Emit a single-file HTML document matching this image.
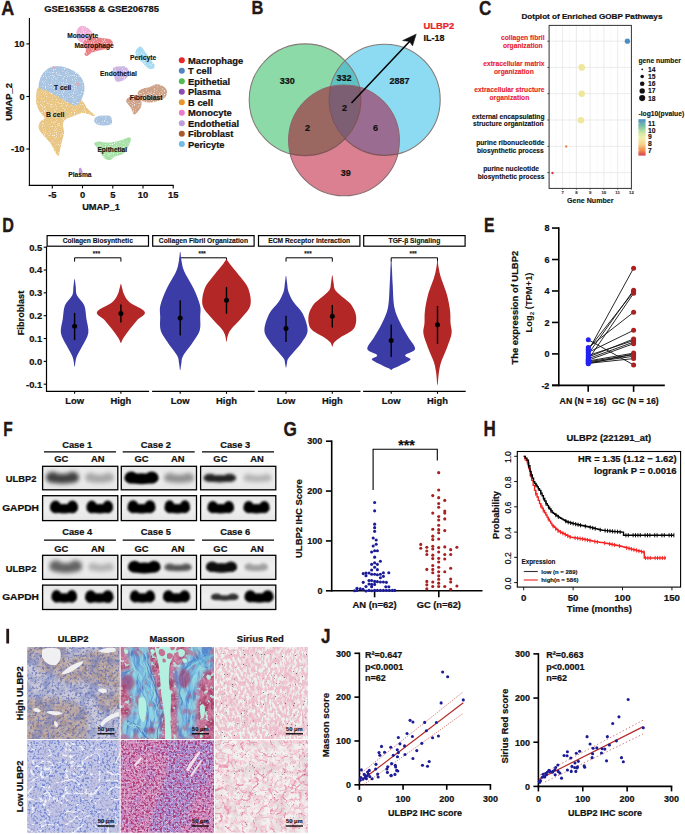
<!DOCTYPE html>
<html><head><meta charset="utf-8"><title>Figure</title>
<style>
html,body{margin:0;padding:0;background:#fff;}
body{width:685px;height:834px;overflow:hidden;}
svg{display:block;font-family:"Liberation Sans", sans-serif;font-weight:bold;}
</style></head><body>
<svg width="685" height="834" viewBox="0 0 685 834" fill="#111">
<defs><filter id="speck" x="-10%" y="-10%" width="120%" height="120%"><feTurbulence type="fractalNoise" baseFrequency="0.9" numOctaves="1" seed="3" result="n"/><feColorMatrix in="n" type="matrix" values="0 0 0 0 1  0 0 0 0 1  0 0 0 0 1  0 0 0 -3.5 1.55" result="w"/><feComposite in="w" in2="SourceGraphic" operator="in" result="wm"/><feMerge><feMergeNode in="SourceGraphic"/><feMergeNode in="wm"/></feMerge></filter><clipPath id="cG"><circle cx="305.1" cy="99.8" r="55.9"/></clipPath><clipPath id="cB"><circle cx="384.6" cy="99.8" r="55.6"/></clipPath><clipPath id="cR"><circle cx="344.0" cy="140.4" r="55.4"/></clipPath><linearGradient id="spec" x1="0" y1="0" x2="0" y2="1"><stop offset="0" stop-color="#4d8ec6"/><stop offset="0.2" stop-color="#7ec4a4"/><stop offset="0.38" stop-color="#cfe9a0"/><stop offset="0.52" stop-color="#f3f0ac"/><stop offset="0.7" stop-color="#f7cf86"/><stop offset="0.85" stop-color="#f0904e"/><stop offset="1" stop-color="#d7424e"/></linearGradient><filter id="bl4" x="-30%" y="-60%" width="160%" height="220%"><feGaussianBlur stdDeviation="0.4"/></filter><filter id="bl5" x="-30%" y="-60%" width="160%" height="220%"><feGaussianBlur stdDeviation="0.5"/></filter><filter id="bl6" x="-30%" y="-60%" width="160%" height="220%"><feGaussianBlur stdDeviation="0.6"/></filter><filter id="bl7" x="-30%" y="-60%" width="160%" height="220%"><feGaussianBlur stdDeviation="0.7"/></filter><filter id="bl8" x="-30%" y="-60%" width="160%" height="220%"><feGaussianBlur stdDeviation="0.8"/></filter><filter id="bl9" x="-30%" y="-60%" width="160%" height="220%"><feGaussianBlur stdDeviation="0.9"/></filter><filter id="bl10" x="-30%" y="-60%" width="160%" height="220%"><feGaussianBlur stdDeviation="1.0"/></filter><filter id="bl11" x="-30%" y="-60%" width="160%" height="220%"><feGaussianBlur stdDeviation="1.1"/></filter><filter id="bl12" x="-30%" y="-60%" width="160%" height="220%"><feGaussianBlur stdDeviation="1.2"/></filter><filter id="bl13" x="-30%" y="-60%" width="160%" height="220%"><feGaussianBlur stdDeviation="1.3"/></filter><filter id="bl14" x="-30%" y="-60%" width="160%" height="220%"><feGaussianBlur stdDeviation="1.4"/></filter><filter id="bl15" x="-30%" y="-60%" width="160%" height="220%"><feGaussianBlur stdDeviation="1.5"/></filter><filter id="bl16" x="-30%" y="-60%" width="160%" height="220%"><feGaussianBlur stdDeviation="1.6"/></filter><filter id="bl17" x="-30%" y="-60%" width="160%" height="220%"><feGaussianBlur stdDeviation="1.7"/></filter><filter id="bl18" x="-30%" y="-60%" width="160%" height="220%"><feGaussianBlur stdDeviation="1.8"/></filter><filter id="bl19" x="-30%" y="-60%" width="160%" height="220%"><feGaussianBlur stdDeviation="1.9"/></filter><filter id="bl20" x="-30%" y="-60%" width="160%" height="220%"><feGaussianBlur stdDeviation="2.0"/></filter><filter id="bl21" x="-30%" y="-60%" width="160%" height="220%"><feGaussianBlur stdDeviation="2.1"/></filter><filter id="bl22" x="-30%" y="-60%" width="160%" height="220%"><feGaussianBlur stdDeviation="2.2"/></filter><filter id="bl23" x="-30%" y="-60%" width="160%" height="220%"><feGaussianBlur stdDeviation="2.3"/></filter><filter id="bl24" x="-30%" y="-60%" width="160%" height="220%"><feGaussianBlur stdDeviation="2.4"/></filter><filter id="bl25" x="-30%" y="-60%" width="160%" height="220%"><feGaussianBlur stdDeviation="2.5"/></filter><filter id="bl26" x="-30%" y="-60%" width="160%" height="220%"><feGaussianBlur stdDeviation="2.6"/></filter><filter id="bl27" x="-30%" y="-60%" width="160%" height="220%"><feGaussianBlur stdDeviation="2.7"/></filter><filter id="bl28" x="-30%" y="-60%" width="160%" height="220%"><feGaussianBlur stdDeviation="2.8"/></filter><filter id="bl29" x="-30%" y="-60%" width="160%" height="220%"><feGaussianBlur stdDeviation="2.9"/></filter><filter id="bl30" x="-30%" y="-60%" width="160%" height="220%"><feGaussianBlur stdDeviation="3.0"/></filter><linearGradient id="blotbg" x1="0" y1="0" x2="0" y2="1"><stop offset="0" stop-color="#e8e8e8"/><stop offset="0.5" stop-color="#efefef"/><stop offset="1" stop-color="#e6e6e6"/></linearGradient><clipPath id="cp1_466"><rect x="42.6" y="466.3" width="75.2" height="23.5"/></clipPath><clipPath id="cp1_495"><rect x="42.6" y="495.7" width="75.2" height="24.900000000000034"/></clipPath><clipPath id="cp2_466"><rect x="121.3" y="466.3" width="75.2" height="23.5"/></clipPath><clipPath id="cp2_495"><rect x="121.3" y="495.7" width="75.2" height="24.900000000000034"/></clipPath><clipPath id="cp3_466"><rect x="200.6" y="466.3" width="75.2" height="23.5"/></clipPath><clipPath id="cp3_495"><rect x="200.6" y="495.7" width="75.2" height="24.900000000000034"/></clipPath><clipPath id="cp4_555"><rect x="42.6" y="555.3" width="75.2" height="24.100000000000023"/></clipPath><clipPath id="cp4_585"><rect x="42.6" y="585.1" width="75.2" height="24.399999999999977"/></clipPath><clipPath id="cp5_555"><rect x="121.3" y="555.3" width="75.2" height="24.100000000000023"/></clipPath><clipPath id="cp5_585"><rect x="121.3" y="585.1" width="75.2" height="24.399999999999977"/></clipPath><clipPath id="cp6_555"><rect x="200.6" y="555.3" width="75.2" height="24.100000000000023"/></clipPath><clipPath id="cp6_585"><rect x="200.6" y="585.1" width="75.2" height="24.399999999999977"/></clipPath><filter id="sb6" x="-20%" y="-20%" width="140%" height="140%"><feGaussianBlur stdDeviation="0.6"/></filter><filter id="sb10" x="-20%" y="-20%" width="140%" height="140%"><feGaussianBlur stdDeviation="1.0"/></filter><filter id="sb20" x="-20%" y="-20%" width="140%" height="140%"><feGaussianBlur stdDeviation="2.0"/></filter><filter id="tblur" x="0" y="0" width="100%" height="100%"><feGaussianBlur stdDeviation="0.65"/></filter><clipPath id="ci_u_hi"><rect x="27.2" y="647.1" width="92.5" height="91.9"/></clipPath><filter id="nz1" x="0" y="0" width="100%" height="100%" color-interpolation-filters="sRGB"><feTurbulence type="fractalNoise" baseFrequency="0.12" numOctaves="2" seed="12"/><feColorMatrix type="matrix" values="0 0 0 0 0.588  0 0 0 0 0.620  0 0 0 0 0.784  6 0 0 0 -2.7"/></filter><mask id="uzone" maskUnits="userSpaceOnUse" x="20" y="640" width="105" height="105"><g fill="#fff" filter="url(#sb20)"><path d="M55,668 L70,658 L90,652 L119,645 L121,690 L100,686 L85,681 L70,683 L58,679Z"/><path d="M25,700 L50,697 L75,702 L88,712 L86,741 L25,741Z"/><path d="M95,695 L121,690 L121,708 L100,712Z"/><path d="M36,645 L66,645 L66,671 L40,673Z"/><path d="M25,645 L34,645 L34,660 L25,662Z"/></g></mask><filter id="nz2" x="0" y="0" width="100%" height="100%" color-interpolation-filters="sRGB"><feTurbulence type="fractalNoise" baseFrequency="0.15" numOctaves="3" seed="7"/><feColorMatrix type="matrix" values="0 0 0 0 0.627  0 0 0 0 0.502  0 0 0 0 0.451  6 0 0 0 -2.8"/></filter><filter id="nz3" x="0" y="0" width="100%" height="100%" color-interpolation-filters="sRGB"><feTurbulence type="fractalNoise" baseFrequency="0.3" numOctaves="2" seed="27"/><feColorMatrix type="matrix" values="0 0 0 0 0.824  0 0 0 0 0.745  0 0 0 0 0.725  6 0 0 0 -2.9"/></filter><filter id="nz4" x="0" y="0" width="100%" height="100%" color-interpolation-filters="sRGB"><feTurbulence type="fractalNoise" baseFrequency="0.4" numOctaves="2" seed="2"/><feColorMatrix type="matrix" values="0 0 0 0 0.306  0 0 0 0 0.384  0 0 0 0 0.706  6 0 0 0 -3.1"/></filter><filter id="nz5" x="0" y="0" width="100%" height="100%" color-interpolation-filters="sRGB"><feTurbulence type="fractalNoise" baseFrequency="0.09" numOctaves="2" seed="33"/><feColorMatrix type="matrix" values="0 0 0 0 0.412  0 0 0 0 0.471  0 0 0 0 0.745  7 0 0 0 -3.6"/></filter><clipPath id="ci_m_hi"><rect x="120.7" y="647.1" width="93.3" height="91.9"/></clipPath><filter id="nz6" x="0" y="0" width="100%" height="100%" color-interpolation-filters="sRGB"><feTurbulence type="fractalNoise" baseFrequency="0.1" numOctaves="3" seed="4"/><feColorMatrix type="matrix" values="0 0 0 0 0.620  0 0 0 0 0.188  0 0 0 0 0.361  6 0 0 0 -2.6"/></filter><filter id="nz7" x="0" y="0" width="100%" height="100%" color-interpolation-filters="sRGB"><feTurbulence type="fractalNoise" baseFrequency="0.35" numOctaves="2" seed="14"/><feColorMatrix type="matrix" values="0 0 0 0 0.871  0 0 0 0 0.620  0 0 0 0 0.706  6 0 0 0 -2.9"/></filter><filter id="nz8" x="0" y="0" width="100%" height="100%" color-interpolation-filters="sRGB"><feTurbulence type="fractalNoise" baseFrequency="0.22" numOctaves="2" seed="51"/><feColorMatrix type="matrix" values="0 0 0 0 0.725  0 0 0 0 0.941  0 0 0 0 0.886  9 0 0 0 -5.3"/></filter><mask id="mzone" maskUnits="userSpaceOnUse" x="115" y="640" width="105" height="105"><g fill="#fff" filter="url(#sb20)"><path d="M127,646 L148,646 L150,660 L152,675 L158,692 L161,715 L161,739 L121,739 L121,722 L130,715 L132,700 L128,690 L121,682 L121,672 L130,668 L128,655Z"/><path d="M190,646 L214,646 L214,668 L205,672 L198,685 L197,700 L196,720 L196,739 L178,739 L177,720 L178,700 L176,685 L174,672 L180,665 L186,658Z"/></g></mask><filter id="nz9" x="0" y="0" width="100%" height="100%" color-interpolation-filters="sRGB"><feTurbulence type="fractalNoise" baseFrequency="0.14 0.05" numOctaves="3" seed="19"/><feColorMatrix type="matrix" values="0 0 0 0 0.235  0 0 0 0 0.424  0 0 0 0 0.776  6 0 0 0 -2.8"/></filter><filter id="nz10" x="0" y="0" width="100%" height="100%" color-interpolation-filters="sRGB"><feTurbulence type="fractalNoise" baseFrequency="0.22 0.07" numOctaves="2" seed="37"/><feColorMatrix type="matrix" values="0 0 0 0 0.588  0 0 0 0 0.871  0 0 0 0 0.894  6 0 0 0 -2.6"/></filter><filter id="nz11" x="0" y="0" width="100%" height="100%" color-interpolation-filters="sRGB"><feTurbulence type="fractalNoise" baseFrequency="0.12" numOctaves="2" seed="41"/><feColorMatrix type="matrix" values="0 0 0 0 0.745  0 0 0 0 0.353  0 0 0 0 0.510  7 0 0 0 -3.9"/></filter><clipPath id="ci_s_hi"><rect x="215.0" y="647.1" width="93.0" height="91.9"/></clipPath><filter id="nz12" x="0" y="0" width="100%" height="100%" color-interpolation-filters="sRGB"><feTurbulence type="fractalNoise" baseFrequency="0.4 0.22" numOctaves="3" seed="5"/><feColorMatrix type="matrix" values="0 0 0 0 0.933  0 0 0 0 0.675  0 0 0 0 0.757  5 0 0 0 -1.9"/></filter><filter id="nz13" x="0" y="0" width="100%" height="100%" color-interpolation-filters="sRGB"><feTurbulence type="fractalNoise" baseFrequency="0.05" numOctaves="2" seed="31"/><feColorMatrix type="matrix" values="0 0 0 0 0.933  0 0 0 0 0.686  0 0 0 0 0.765  5 0 0 0 -2.5"/></filter><filter id="nz14" x="0" y="0" width="100%" height="100%" color-interpolation-filters="sRGB"><feTurbulence type="fractalNoise" baseFrequency="0.9" numOctaves="1" seed="13"/><feColorMatrix type="matrix" values="0 0 0 0 0.157  0 0 0 0 0.157  0 0 0 0 0.157  20 0 0 0 -14.2"/></filter><clipPath id="ci_u_lo"><rect x="27.2" y="740.0" width="92.5" height="92.8"/></clipPath><filter id="nz15" x="0" y="0" width="100%" height="100%" color-interpolation-filters="sRGB"><feTurbulence type="fractalNoise" baseFrequency="0.45" numOctaves="2" seed="3"/><feColorMatrix type="matrix" values="0 0 0 0 0.333  0 0 0 0 0.424  0 0 0 0 0.784  6 0 0 0 -2.95"/></filter><filter id="nz16" x="0" y="0" width="100%" height="100%" color-interpolation-filters="sRGB"><feTurbulence type="fractalNoise" baseFrequency="0.08" numOctaves="3" seed="8"/><feColorMatrix type="matrix" values="0 0 0 0 0.765  0 0 0 0 0.753  0 0 0 0 0.871  6 0 0 0 -3.0"/></filter><filter id="nz17" x="0" y="0" width="100%" height="100%" color-interpolation-filters="sRGB"><feTurbulence type="turbulence" baseFrequency="0.06 0.08" numOctaves="3" seed="9"/><feColorMatrix type="matrix" values="0 0 0 0 0.957  0 0 0 0 0.961  0 0 0 0 0.980  -14 0 0 0 2.0"/></filter><clipPath id="ci_m_lo"><rect x="120.7" y="740.0" width="93.3" height="92.8"/></clipPath><mask id="mlzone" maskUnits="userSpaceOnUse" x="115" y="735" width="105" height="105"><g fill="#fff" filter="url(#sb20)"><path d="M168,740 L214,740 L214,770 L200,790 L188,812 L180,834 L150,834 L152,815 L160,795 L166,775 L168,758Z"/></g></mask><filter id="nz18" x="0" y="0" width="100%" height="100%" color-interpolation-filters="sRGB"><feTurbulence type="fractalNoise" baseFrequency="0.07" numOctaves="3" seed="17"/><feColorMatrix type="matrix" values="0 0 0 0 0.627  0 0 0 0 0.510  0 0 0 0 0.824  6 0 0 0 -3.1"/></filter><filter id="nz19" x="0" y="0" width="100%" height="100%" color-interpolation-filters="sRGB"><feTurbulence type="fractalNoise" baseFrequency="0.45" numOctaves="2" seed="3"/><feColorMatrix type="matrix" values="0 0 0 0 0.659  0 0 0 0 0.149  0 0 0 0 0.384  7 0 0 0 -3.4"/></filter><filter id="nz20" x="0" y="0" width="100%" height="100%" color-interpolation-filters="sRGB"><feTurbulence type="fractalNoise" baseFrequency="0.5" numOctaves="2" seed="8"/><feColorMatrix type="matrix" values="0 0 0 0 0.941  0 0 0 0 0.871  0 0 0 0 0.941  8 0 0 0 -4.3"/></filter><clipPath id="ci_s_lo"><rect x="215.0" y="740.0" width="93.0" height="92.8"/></clipPath><filter id="nz21" x="0" y="0" width="100%" height="100%" color-interpolation-filters="sRGB"><feTurbulence type="fractalNoise" baseFrequency="0.08" numOctaves="3" seed="41"/><feColorMatrix type="matrix" values="0 0 0 0 0.871  0 0 0 0 0.824  0 0 0 0 0.831  5 0 0 0 -2.3"/></filter><filter id="nz22" x="0" y="0" width="100%" height="100%" color-interpolation-filters="sRGB"><feTurbulence type="fractalNoise" baseFrequency="0.2" numOctaves="3" seed="43"/><feColorMatrix type="matrix" values="0 0 0 0 0.941  0 0 0 0 0.745  0 0 0 0 0.804  5 0 0 0 -2.2"/></filter><filter id="nz23" x="0" y="0" width="100%" height="100%" color-interpolation-filters="sRGB"><feTurbulence type="turbulence" baseFrequency="0.07" numOctaves="3" seed="6"/><feColorMatrix type="matrix" values="0 0 0 0 0.910  0 0 0 0 0.549  0 0 0 0 0.667  -14 0 0 0 2.0"/></filter><filter id="nz24" x="0" y="0" width="100%" height="100%" color-interpolation-filters="sRGB"><feTurbulence type="turbulence" baseFrequency="0.11" numOctaves="2" seed="16"/><feColorMatrix type="matrix" values="0 0 0 0 0.925  0 0 0 0 0.627  0 0 0 0 0.725  -16 0 0 0 1.9"/></filter><filter id="nz25" x="0" y="0" width="100%" height="100%" color-interpolation-filters="sRGB"><feTurbulence type="fractalNoise" baseFrequency="0.9" numOctaves="1" seed="13"/><feColorMatrix type="matrix" values="0 0 0 0 0.235  0 0 0 0 0.235  0 0 0 0 0.235  20 0 0 0 -14.4"/></filter></defs>
<rect width="685" height="834" fill="#fff"/>
<text transform="translate(1.20 14.60) scale(0.924 1)" font-size="19.48" fill="#231815" stroke="#231815" stroke-width="0.35" stroke-linejoin="round">A</text>
<text x="44.20" y="11.70" font-size="9.4" textLength="114.9" lengthAdjust="spacingAndGlyphs" stroke="#111" stroke-width="0.22">GSE163558 &amp; GSE206785</text>
<g filter="url(#speck)">
<path d="M36.50,92.00 C37.08,89.00 38.08,86.67 40.00,86.00 C41.92,85.33 44.67,87.00 48.00,88.00 C51.33,89.00 56.00,90.67 60.00,92.00 C64.00,93.33 68.67,94.83 72.00,96.00 C75.33,97.17 78.00,97.83 80.00,99.00 C82.00,100.17 82.83,101.50 84.00,103.00 C85.17,104.50 85.83,106.50 87.00,108.00 C88.17,109.50 89.67,110.83 91.00,112.00 C92.33,113.17 94.67,114.33 95.00,115.00 C95.33,115.67 94.17,116.17 93.00,116.00 C91.83,115.83 89.83,114.50 88.00,114.00 C86.17,113.50 84.33,112.67 82.00,113.00 C79.67,113.33 76.67,115.00 74.00,116.00 C71.33,117.00 67.83,117.67 66.00,119.00 C64.17,120.33 63.33,121.67 63.00,124.00 C62.67,126.33 64.17,130.17 64.00,133.00 C63.83,135.83 62.67,138.17 62.00,141.00 C61.33,143.83 60.58,147.50 60.00,150.00 C59.42,152.50 59.33,155.67 58.50,156.00 C57.67,156.33 56.25,154.00 55.00,152.00 C53.75,150.00 52.67,146.50 51.00,144.00 C49.33,141.50 46.83,139.17 45.00,137.00 C43.17,134.83 41.08,132.83 40.00,131.00 C38.92,129.17 38.33,127.67 38.50,126.00 C38.67,124.33 40.00,122.33 41.00,121.00 C42.00,119.67 44.67,119.50 44.50,118.00 C44.33,116.50 41.33,114.33 40.00,112.00 C38.67,109.67 37.08,107.33 36.50,104.00 C35.92,100.67 35.92,95.00 36.50,92.00Z" fill="#e9c682"/>
<path d="M40.00,79.00 C40.83,76.42 42.33,73.92 44.00,72.00 C45.67,70.08 48.00,68.50 50.00,67.50 C52.00,66.50 53.67,66.08 56.00,66.00 C58.33,65.92 61.33,66.33 64.00,67.00 C66.67,67.67 69.50,68.67 72.00,70.00 C74.50,71.33 77.08,73.00 79.00,75.00 C80.92,77.00 82.58,79.50 83.50,82.00 C84.42,84.50 84.67,87.50 84.50,90.00 C84.33,92.50 83.25,95.00 82.50,97.00 C81.75,99.00 81.08,100.58 80.00,102.00 C78.92,103.42 77.67,105.25 76.00,105.50 C74.33,105.75 72.33,104.58 70.00,103.50 C67.67,102.42 64.67,100.50 62.00,99.00 C59.33,97.50 56.67,95.92 54.00,94.50 C51.33,93.08 48.50,91.67 46.00,90.50 C43.50,89.33 40.00,89.42 39.00,87.50 C38.00,85.58 39.17,81.58 40.00,79.00Z" fill="#a9c5e1"/>
<path d="M94.00,120.00 C94.00,118.67 95.50,117.25 97.00,116.50 C98.50,115.75 100.83,115.58 103.00,115.50 C105.17,115.42 108.50,115.25 110.00,116.00 C111.50,116.75 111.83,118.58 112.00,120.00 C112.17,121.42 112.33,123.58 111.00,124.50 C109.67,125.42 106.33,125.50 104.00,125.50 C101.67,125.50 98.67,125.42 97.00,124.50 C95.33,123.58 94.00,121.33 94.00,120.00Z" fill="#a9c5e1"/>
<path d="M77.00,30.00 C77.58,28.58 78.67,27.08 80.00,26.50 C81.33,25.92 83.33,25.92 85.00,26.50 C86.67,27.08 88.50,28.42 90.00,30.00 C91.50,31.58 93.67,34.17 94.00,36.00 C94.33,37.83 93.67,39.83 92.00,41.00 C90.33,42.17 86.33,43.17 84.00,43.00 C81.67,42.83 79.25,41.33 78.00,40.00 C76.75,38.67 76.67,36.67 76.50,35.00 C76.33,33.33 76.42,31.42 77.00,30.00Z" fill="#f2afd9"/>
<path d="M84.00,41.00 C85.08,39.75 87.67,38.08 90.00,37.50 C92.33,36.92 95.33,37.33 98.00,37.50 C100.67,37.67 103.75,38.08 106.00,38.50 C108.25,38.92 110.42,39.00 111.50,40.00 C112.58,41.00 113.08,43.08 112.50,44.50 C111.92,45.92 110.25,47.50 108.00,48.50 C105.75,49.50 101.67,49.83 99.00,50.50 C96.33,51.17 94.00,51.58 92.00,52.50 C90.00,53.42 88.25,55.75 87.00,56.00 C85.75,56.25 84.67,55.08 84.50,54.00 C84.33,52.92 86.17,51.00 86.00,49.50 C85.83,48.00 83.83,46.42 83.50,45.00 C83.17,43.58 82.92,42.25 84.00,41.00Z" fill="#ea7f86"/>
<path d="M135.50,52.00 C135.75,50.17 137.92,47.75 139.00,47.00 C140.08,46.25 140.83,46.50 142.00,47.50 C143.17,48.50 144.50,50.92 146.00,53.00 C147.50,55.08 149.50,57.83 151.00,60.00 C152.50,62.17 154.83,64.50 155.00,66.00 C155.17,67.50 153.33,68.75 152.00,69.00 C150.67,69.25 148.67,68.67 147.00,67.50 C145.33,66.33 143.58,63.58 142.00,62.00 C140.42,60.42 138.58,59.67 137.50,58.00 C136.42,56.33 135.25,53.83 135.50,52.00Z" fill="#a5daf1"/>
<path d="M113.00,68.00 C113.67,66.42 116.00,66.75 118.00,66.50 C120.00,66.25 123.17,65.75 125.00,66.50 C126.83,67.25 128.58,69.25 129.00,71.00 C129.42,72.75 128.50,75.42 127.50,77.00 C126.50,78.58 124.83,79.75 123.00,80.50 C121.17,81.25 118.00,82.25 116.50,81.50 C115.00,80.75 114.58,78.25 114.00,76.00 C113.42,73.75 112.33,69.58 113.00,68.00Z" fill="#cdb5e3"/>
<path d="M138.00,92.00 C138.75,90.58 141.00,89.33 143.00,88.50 C145.00,87.67 148.00,87.67 150.00,87.00 C152.00,86.33 153.17,84.83 155.00,84.50 C156.83,84.17 159.17,84.25 161.00,85.00 C162.83,85.75 165.00,87.50 166.00,89.00 C167.00,90.50 167.50,92.33 167.00,94.00 C166.50,95.67 164.83,97.75 163.00,99.00 C161.17,100.25 158.33,100.92 156.00,101.50 C153.67,102.08 151.33,102.58 149.00,102.50 C146.67,102.42 143.75,101.92 142.00,101.00 C140.25,100.08 139.17,98.50 138.50,97.00 C137.83,95.50 137.25,93.42 138.00,92.00Z" fill="#cfa287"/>
<path d="M126.50,99.50 C127.17,98.42 129.08,96.75 131.00,96.50 C132.92,96.25 136.25,97.08 138.00,98.00 C139.75,98.92 141.08,100.33 141.50,102.00 C141.92,103.67 141.42,106.08 140.50,108.00 C139.58,109.92 137.17,112.50 136.00,113.50 C134.83,114.50 134.33,114.92 133.50,114.00 C132.67,113.08 132.08,109.83 131.00,108.00 C129.92,106.17 127.75,104.42 127.00,103.00 C126.25,101.58 125.83,100.58 126.50,99.50Z" fill="#cfa287"/>
<path d="M94.00,143.50 C94.33,142.50 97.00,141.67 99.00,141.50 C101.00,141.33 103.50,142.42 106.00,142.50 C108.50,142.58 111.33,142.42 114.00,142.00 C116.67,141.58 119.67,140.75 122.00,140.00 C124.33,139.25 126.50,137.67 128.00,137.50 C129.50,137.33 131.00,137.42 131.00,139.00 C131.00,140.58 129.33,144.50 128.00,147.00 C126.67,149.50 125.00,152.50 123.00,154.00 C121.00,155.50 118.17,155.00 116.00,156.00 C113.83,157.00 112.00,159.67 110.00,160.00 C108.00,160.33 105.67,159.33 104.00,158.00 C102.33,156.67 101.17,153.75 100.00,152.00 C98.83,150.25 98.00,148.92 97.00,147.50 C96.00,146.08 93.67,144.50 94.00,143.50Z" fill="#a6e1a6"/>
<path d="M79.00,168.50 C79.33,167.50 80.42,167.42 81.00,168.00 C81.58,168.58 82.50,170.83 82.50,172.00 C82.50,173.17 81.58,174.67 81.00,175.00 C80.42,175.33 79.33,175.08 79.00,174.00 C78.67,172.92 78.67,169.50 79.00,168.50Z" fill="#c39ad9"/>
</g>
<circle cx="78" cy="84" r="2" fill="#e9a0a6" opacity="0.6"/>
<circle cx="54" cy="67.5" r="1.6" fill="#e9a0a6" opacity="0.7"/>
<text x="67.20" y="37.50" font-size="6.7" textLength="31" lengthAdjust="spacingAndGlyphs" stroke="#111" stroke-width="0.12">Monocyte</text>
<text x="74.50" y="48.40" font-size="6.7" textLength="39.3" lengthAdjust="spacingAndGlyphs" stroke="#111" stroke-width="0.12">Macrophage</text>
<text x="129.90" y="60.00" font-size="6.7" textLength="26.3" lengthAdjust="spacingAndGlyphs" stroke="#111" stroke-width="0.12">Pericyte</text>
<text x="100.10" y="76.30" font-size="6.7" textLength="36.7" lengthAdjust="spacingAndGlyphs" stroke="#111" stroke-width="0.12">Endothetial</text>
<text x="129.80" y="99.50" font-size="6.7" textLength="32.6" lengthAdjust="spacingAndGlyphs" stroke="#111" stroke-width="0.12">Fibroblast</text>
<text x="54.10" y="89.60" font-size="6.7" textLength="17.1" lengthAdjust="spacingAndGlyphs" stroke="#111" stroke-width="0.12">T cell</text>
<text x="46.00" y="116.60" font-size="6.7" textLength="18.3" lengthAdjust="spacingAndGlyphs" stroke="#111" stroke-width="0.12">B cell</text>
<text x="97.40" y="152.30" font-size="6.7" textLength="29.7" lengthAdjust="spacingAndGlyphs" stroke="#111" stroke-width="0.12">Epithetial</text>
<text x="68.20" y="176.90" font-size="6.7" textLength="23.4" lengthAdjust="spacingAndGlyphs" stroke="#111" stroke-width="0.12">Plasma</text>
<line x1="29.40" y1="18.00" x2="29.40" y2="186.00" stroke="#000" stroke-width="1.1"/>
<line x1="28.85" y1="185.40" x2="173.80" y2="185.40" stroke="#000" stroke-width="1.1"/>
<line x1="26.40" y1="43.90" x2="29.40" y2="43.90" stroke="#000" stroke-width="1.1"/>
<text x="24.60" y="47.30" font-size="9.4" text-anchor="end" stroke="#111" stroke-width="0.22">10</text>
<line x1="26.40" y1="96.50" x2="29.40" y2="96.50" stroke="#000" stroke-width="1.1"/>
<text x="24.60" y="99.90" font-size="9.4" text-anchor="end" stroke="#111" stroke-width="0.22">0</text>
<line x1="26.40" y1="149.00" x2="29.40" y2="149.00" stroke="#000" stroke-width="1.1"/>
<text x="24.60" y="152.40" font-size="9.4" text-anchor="end" stroke="#111" stroke-width="0.22">-10</text>
<line x1="52.30" y1="185.40" x2="52.30" y2="188.40" stroke="#000" stroke-width="1.1"/>
<text x="52.30" y="198.20" font-size="9.4" text-anchor="middle" stroke="#111" stroke-width="0.22">-5</text>
<line x1="82.50" y1="185.40" x2="82.50" y2="188.40" stroke="#000" stroke-width="1.1"/>
<text x="82.50" y="198.20" font-size="9.4" text-anchor="middle" stroke="#111" stroke-width="0.22">0</text>
<line x1="112.80" y1="185.40" x2="112.80" y2="188.40" stroke="#000" stroke-width="1.1"/>
<text x="112.80" y="198.20" font-size="9.4" text-anchor="middle" stroke="#111" stroke-width="0.22">5</text>
<line x1="143.00" y1="185.40" x2="143.00" y2="188.40" stroke="#000" stroke-width="1.1"/>
<text x="143.00" y="198.20" font-size="9.4" text-anchor="middle" stroke="#111" stroke-width="0.22">10</text>
<line x1="173.20" y1="185.40" x2="173.20" y2="188.40" stroke="#000" stroke-width="1.1"/>
<text x="173.20" y="198.20" font-size="9.4" text-anchor="middle" stroke="#111" stroke-width="0.22">15</text>
<text x="101.00" y="209.50" font-size="9.4" text-anchor="middle" textLength="37.7" lengthAdjust="spacingAndGlyphs" stroke="#111" stroke-width="0.22">UMAP_1</text>
<text x="11.60" y="102.00" font-size="9.4" text-anchor="middle" textLength="37.7" lengthAdjust="spacingAndGlyphs" transform="rotate(-90 11.6 102)" stroke="#111" stroke-width="0.22">UMAP_2</text>
<circle cx="181.8" cy="60.20" r="3" fill="#e8282c"/>
<text x="188.00" y="63.60" font-size="9.4" stroke="#111" stroke-width="0.22">Macrophage</text>
<circle cx="181.8" cy="70.69" r="3" fill="#4f86c0"/>
<text x="188.00" y="74.09" font-size="9.4" stroke="#111" stroke-width="0.22">T cell</text>
<circle cx="181.8" cy="81.18" r="3" fill="#52bb52"/>
<text x="188.00" y="84.58" font-size="9.4" stroke="#111" stroke-width="0.22">Epithetial</text>
<circle cx="181.8" cy="91.67" r="3" fill="#8d4cb3"/>
<text x="188.00" y="95.07" font-size="9.4" stroke="#111" stroke-width="0.22">Plasma</text>
<circle cx="181.8" cy="102.16" r="3" fill="#e8962c"/>
<text x="188.00" y="105.56" font-size="9.4" stroke="#111" stroke-width="0.22">B cell</text>
<circle cx="181.8" cy="112.65" r="3" fill="#eb7ccb"/>
<text x="188.00" y="116.05" font-size="9.4" stroke="#111" stroke-width="0.22">Monocyte</text>
<circle cx="181.8" cy="123.14" r="3" fill="#bb9edb"/>
<text x="188.00" y="126.54" font-size="9.4" stroke="#111" stroke-width="0.22">Endothetial</text>
<circle cx="181.8" cy="133.63" r="3" fill="#a85b2c"/>
<text x="188.00" y="137.03" font-size="9.4" stroke="#111" stroke-width="0.22">Fibroblast</text>
<circle cx="181.8" cy="144.12" r="3" fill="#6dbbe8"/>
<text x="188.00" y="147.52" font-size="9.4" stroke="#111" stroke-width="0.22">Pericyte</text>
<text transform="translate(251.40 14.30) scale(0.866 1)" font-size="19.04" fill="#231815" stroke="#231815" stroke-width="0.35" stroke-linejoin="round">B</text>
<circle cx="305.1" cy="99.8" r="55.9" fill="#8cdaa8"/>
<circle cx="384.6" cy="99.8" r="55.6" fill="#8ddbf2"/>
<circle cx="344.0" cy="140.4" r="55.4" fill="#db8090"/>
<g clip-path="url(#cG)"><circle cx="384.6" cy="99.8" r="55.6" fill="#5ec2c4"/></g>
<g clip-path="url(#cG)"><circle cx="344.0" cy="140.4" r="55.4" fill="#9a6860"/></g>
<g clip-path="url(#cB)"><circle cx="344.0" cy="140.4" r="55.4" fill="#9b6c91"/></g>
<g clip-path="url(#cG)"><g clip-path="url(#cB)"><circle cx="344.0" cy="140.4" r="55.4" fill="#7d5f73"/></g></g>
<circle cx="305.1" cy="99.8" r="55.9" fill="none" stroke="#847a78" stroke-width="1.1"/>
<circle cx="384.6" cy="99.8" r="55.6" fill="none" stroke="#847a78" stroke-width="1.1"/>
<circle cx="344.0" cy="140.4" r="55.4" fill="none" stroke="#8a6a70" stroke-width="1.1"/>
<g clip-path="url(#cR)"><circle cx="305.1" cy="99.8" r="55.9" fill="none" stroke="#8a3040" stroke-width="0.9" opacity="0.7"/><circle cx="384.6" cy="99.8" r="55.6" fill="none" stroke="#8a3040" stroke-width="0.9" opacity="0.7"/></g>
<text x="287.20" y="83.80" font-size="9" text-anchor="middle" stroke="#111" stroke-width="0.22">330</text>
<text x="344.10" y="80.70" font-size="9" text-anchor="middle" stroke="#111" stroke-width="0.22">332</text>
<text x="399.60" y="83.50" font-size="9" text-anchor="middle" stroke="#111" stroke-width="0.22">2887</text>
<text x="344.50" y="111.20" font-size="9" text-anchor="middle" stroke="#111" stroke-width="0.22">2</text>
<text x="307.40" y="130.60" font-size="9" text-anchor="middle" stroke="#111" stroke-width="0.22">2</text>
<text x="375.50" y="130.60" font-size="9" text-anchor="middle" stroke="#111" stroke-width="0.22">6</text>
<text x="345.80" y="175.80" font-size="9" text-anchor="middle" stroke="#111" stroke-width="0.22">39</text>
<line x1="351.50" y1="103.00" x2="410.00" y2="41.00" stroke="#000" stroke-width="1.5"/>
<polygon points="416.3,34.0 402.5,40.6 409.4,41.6 412.6,45.9" fill="#111" stroke="#111" stroke-width="0.4" stroke-linejoin="round"/>
<text x="423.50" y="29.30" font-size="9.4" fill="#e8222b" textLength="30.8" lengthAdjust="spacingAndGlyphs" stroke="#e8222b" stroke-width="0.22">ULBP2</text>
<text x="423.50" y="40.60" font-size="9.4" textLength="21" lengthAdjust="spacingAndGlyphs" stroke="#111" stroke-width="0.22">IL-18</text>
<text transform="translate(479.10 15.00) scale(0.856 1)" font-size="20.06" fill="#231815" stroke="#231815" stroke-width="0.35" stroke-linejoin="round">C</text>
<text x="521.40" y="18.50" font-size="8.1" textLength="141" lengthAdjust="spacingAndGlyphs" stroke="#111" stroke-width="0.22">Dotplot of Enriched GOBP Pathways</text>
<rect x="549.1" y="25.4" width="82.29999999999995" height="163.0" fill="#fff"/>
<line x1="555.72" y1="25.40" x2="555.72" y2="188.40" stroke="#f2f2f2" stroke-width="0.5"/>
<line x1="569.48" y1="25.40" x2="569.48" y2="188.40" stroke="#f2f2f2" stroke-width="0.5"/>
<line x1="583.24" y1="25.40" x2="583.24" y2="188.40" stroke="#f2f2f2" stroke-width="0.5"/>
<line x1="597.00" y1="25.40" x2="597.00" y2="188.40" stroke="#f2f2f2" stroke-width="0.5"/>
<line x1="610.76" y1="25.40" x2="610.76" y2="188.40" stroke="#f2f2f2" stroke-width="0.5"/>
<line x1="624.52" y1="25.40" x2="624.52" y2="188.40" stroke="#f2f2f2" stroke-width="0.5"/>
<line x1="562.60" y1="25.40" x2="562.60" y2="188.40" stroke="#e6e6e6" stroke-width="0.8"/>
<line x1="576.36" y1="25.40" x2="576.36" y2="188.40" stroke="#e6e6e6" stroke-width="0.8"/>
<line x1="590.12" y1="25.40" x2="590.12" y2="188.40" stroke="#e6e6e6" stroke-width="0.8"/>
<line x1="603.88" y1="25.40" x2="603.88" y2="188.40" stroke="#e6e6e6" stroke-width="0.8"/>
<line x1="617.64" y1="25.40" x2="617.64" y2="188.40" stroke="#e6e6e6" stroke-width="0.8"/>
<line x1="549.10" y1="41.20" x2="631.40" y2="41.20" stroke="#e6e6e6" stroke-width="0.8"/>
<line x1="549.10" y1="67.40" x2="631.40" y2="67.40" stroke="#e6e6e6" stroke-width="0.8"/>
<line x1="549.10" y1="93.70" x2="631.40" y2="93.70" stroke="#e6e6e6" stroke-width="0.8"/>
<line x1="549.10" y1="120.00" x2="631.40" y2="120.00" stroke="#e6e6e6" stroke-width="0.8"/>
<line x1="549.10" y1="146.30" x2="631.40" y2="146.30" stroke="#e6e6e6" stroke-width="0.8"/>
<line x1="549.10" y1="172.60" x2="631.40" y2="172.60" stroke="#e6e6e6" stroke-width="0.8"/>
<rect x="549.1" y="25.4" width="82.29999999999995" height="163.0" fill="none" stroke="#333" stroke-width="1"/>
<line x1="547.30" y1="41.20" x2="549.10" y2="41.20" stroke="#333" stroke-width="0.8"/>
<line x1="547.30" y1="67.40" x2="549.10" y2="67.40" stroke="#333" stroke-width="0.8"/>
<line x1="547.30" y1="93.70" x2="549.10" y2="93.70" stroke="#333" stroke-width="0.8"/>
<line x1="547.30" y1="120.00" x2="549.10" y2="120.00" stroke="#333" stroke-width="0.8"/>
<line x1="547.30" y1="146.30" x2="549.10" y2="146.30" stroke="#333" stroke-width="0.8"/>
<line x1="547.30" y1="172.60" x2="549.10" y2="172.60" stroke="#333" stroke-width="0.8"/>
<line x1="562.60" y1="188.40" x2="562.60" y2="190.00" stroke="#333" stroke-width="0.6"/>
<text x="562.60" y="194.20" font-size="4.3" text-anchor="middle" fill="#333" stroke="#333" stroke-width="0.12">7</text>
<line x1="576.36" y1="188.40" x2="576.36" y2="190.00" stroke="#333" stroke-width="0.6"/>
<text x="576.36" y="194.20" font-size="4.3" text-anchor="middle" fill="#333" stroke="#333" stroke-width="0.12">8</text>
<line x1="590.12" y1="188.40" x2="590.12" y2="190.00" stroke="#333" stroke-width="0.6"/>
<text x="590.12" y="194.20" font-size="4.3" text-anchor="middle" fill="#333" stroke="#333" stroke-width="0.12">9</text>
<line x1="603.88" y1="188.40" x2="603.88" y2="190.00" stroke="#333" stroke-width="0.6"/>
<text x="603.88" y="194.20" font-size="4.3" text-anchor="middle" fill="#333" stroke="#333" stroke-width="0.12">10</text>
<line x1="617.64" y1="188.40" x2="617.64" y2="190.00" stroke="#333" stroke-width="0.6"/>
<text x="617.64" y="194.20" font-size="4.3" text-anchor="middle" fill="#333" stroke="#333" stroke-width="0.12">11</text>
<line x1="631.40" y1="188.40" x2="631.40" y2="190.00" stroke="#333" stroke-width="0.6"/>
<text x="631.40" y="194.20" font-size="4.3" text-anchor="middle" fill="#333" stroke="#333" stroke-width="0.12">12</text>
<text x="590.30" y="203.00" font-size="7.1" text-anchor="middle" stroke="#111" stroke-width="0.12">Gene Number</text>
<text x="522.82" y="39.70" font-size="6.7" text-anchor="middle" fill="#e8222b" stroke="#e8222b" stroke-width="0.12">collagen fibril</text>
<text x="522.82" y="47.50" font-size="6.7" text-anchor="middle" fill="#e8222b" stroke="#e8222b" stroke-width="0.12">organization</text>
<text x="513.88" y="65.90" font-size="6.7" text-anchor="middle" fill="#e8222b" stroke="#e8222b" stroke-width="0.12">extracellular matrix</text>
<text x="513.88" y="73.70" font-size="6.7" text-anchor="middle" fill="#e8222b" stroke="#e8222b" stroke-width="0.12">organization</text>
<text x="509.41" y="92.20" font-size="6.7" text-anchor="middle" fill="#e8222b" stroke="#e8222b" stroke-width="0.12">extracellular structure</text>
<text x="509.41" y="100.00" font-size="6.7" text-anchor="middle" fill="#e8222b" stroke="#e8222b" stroke-width="0.12">organization</text>
<text x="508.30" y="118.50" font-size="6.7" text-anchor="middle" stroke="#111" stroke-width="0.12">external encapsulating</text>
<text x="508.30" y="126.30" font-size="6.7" text-anchor="middle" stroke="#111" stroke-width="0.12">structure organization</text>
<text x="510.36" y="144.80" font-size="6.7" text-anchor="middle" stroke="#111" stroke-width="0.12">purine ribonucleotide</text>
<text x="510.36" y="152.60" font-size="6.7" text-anchor="middle" stroke="#111" stroke-width="0.12">biosynthetic process</text>
<text x="511.09" y="171.10" font-size="6.7" text-anchor="middle" stroke="#111" stroke-width="0.12">purine nucleotide</text>
<text x="511.09" y="178.90" font-size="6.7" text-anchor="middle" stroke="#111" stroke-width="0.12">biosynthetic process</text>
<circle cx="627.4" cy="41.2" r="2.6" fill="#4a8cc4"/>
<circle cx="581.7" cy="67.4" r="3.3" fill="#efe89c"/>
<circle cx="581.7" cy="93.8" r="3.3" fill="#efe89c"/>
<circle cx="580.9" cy="120.3" r="3.3" fill="#efe89c"/>
<circle cx="566.2" cy="146.5" r="1.2" fill="#f08a48"/>
<circle cx="552.5" cy="173.0" r="1.2" fill="#d83844"/>
<text x="638.40" y="62.90" font-size="6.75" stroke="#111" stroke-width="0.12">gene number</text>
<circle cx="642.2" cy="69.30" r="0.9" fill="#111"/>
<text x="648.00" y="71.70" font-size="6.75" stroke="#111" stroke-width="0.12">14</text>
<circle cx="642.2" cy="76.50" r="1.8" fill="#111"/>
<text x="648.00" y="78.90" font-size="6.75" stroke="#111" stroke-width="0.12">15</text>
<circle cx="642.2" cy="83.70" r="2.3" fill="#111"/>
<text x="648.00" y="86.10" font-size="6.75" stroke="#111" stroke-width="0.12">16</text>
<circle cx="642.2" cy="90.90" r="2.7" fill="#111"/>
<text x="648.00" y="93.30" font-size="6.75" stroke="#111" stroke-width="0.12">17</text>
<circle cx="642.2" cy="98.10" r="3.05" fill="#111"/>
<text x="648.00" y="100.50" font-size="6.75" stroke="#111" stroke-width="0.12">18</text>
<text x="638.40" y="115.80" font-size="6.75" stroke="#111" stroke-width="0.12">-log10(pvalue)</text>
<rect x="638.4" y="119.2" width="7.2" height="36.4" fill="url(#spec)"/>
<text x="648.00" y="125.80" font-size="6.75" stroke="#111" stroke-width="0.12">11</text>
<line x1="638.40" y1="123.40" x2="639.80" y2="123.40" stroke="#fff" stroke-width="0.4"/>
<line x1="644.40" y1="123.40" x2="645.60" y2="123.40" stroke="#fff" stroke-width="0.4"/>
<text x="648.00" y="132.58" font-size="6.75" stroke="#111" stroke-width="0.12">10</text>
<line x1="638.40" y1="130.18" x2="639.80" y2="130.18" stroke="#fff" stroke-width="0.4"/>
<line x1="644.40" y1="130.18" x2="645.60" y2="130.18" stroke="#fff" stroke-width="0.4"/>
<text x="648.00" y="139.36" font-size="6.75" stroke="#111" stroke-width="0.12">9</text>
<line x1="638.40" y1="136.96" x2="639.80" y2="136.96" stroke="#fff" stroke-width="0.4"/>
<line x1="644.40" y1="136.96" x2="645.60" y2="136.96" stroke="#fff" stroke-width="0.4"/>
<text x="648.00" y="146.14" font-size="6.75" stroke="#111" stroke-width="0.12">8</text>
<line x1="638.40" y1="143.74" x2="639.80" y2="143.74" stroke="#fff" stroke-width="0.4"/>
<line x1="644.40" y1="143.74" x2="645.60" y2="143.74" stroke="#fff" stroke-width="0.4"/>
<text x="648.00" y="152.92" font-size="6.75" stroke="#111" stroke-width="0.12">7</text>
<line x1="638.40" y1="150.52" x2="639.80" y2="150.52" stroke="#fff" stroke-width="0.4"/>
<line x1="644.40" y1="150.52" x2="645.60" y2="150.52" stroke="#fff" stroke-width="0.4"/>
<text transform="translate(2.30 232.20) scale(0.796 1)" font-size="20.35" fill="#231815" stroke="#231815" stroke-width="0.35" stroke-linejoin="round">D</text>
<rect x="47.10" y="235.6" width="101.40" height="10.6" fill="#fff" stroke="#000" stroke-width="1.2"/>
<text x="97.80" y="242.90" font-size="6.7" text-anchor="middle" stroke="#111" stroke-width="0.12">Collagen Biosynthetic</text>
<path d="M74.60,261.6 V257.8 H120.90 V261.6" fill="none" stroke="#000" stroke-width="1"/>
<text x="96.55" y="256.20" font-size="6.3" text-anchor="middle" stroke="#111" stroke-width="0.12">***</text>
<path d="M74.85,279.30 C75.01,280.58 75.46,284.33 75.80,287.00 C76.14,289.67 75.50,292.25 76.90,295.30 C78.30,298.35 82.62,301.38 84.20,305.30 C85.78,309.22 85.72,314.18 86.40,318.80 C87.08,323.42 88.93,328.53 88.30,333.00 C87.67,337.47 84.47,341.82 82.60,345.60 C80.73,349.38 78.27,353.13 77.10,355.70 C75.93,358.27 75.97,359.18 75.60,361.00 C75.22,362.82 74.97,365.67 74.85,366.60 L74.35,366.60 C74.22,365.67 73.97,362.82 73.60,361.00 C73.22,359.18 73.27,358.27 72.10,355.70 C70.93,353.13 68.47,349.38 66.60,345.60 C64.73,341.82 61.53,337.47 60.90,333.00 C60.27,328.53 62.12,323.42 62.80,318.80 C63.48,314.18 63.42,309.22 65.00,305.30 C66.58,301.38 70.90,298.35 72.30,295.30 C73.70,292.25 73.06,289.67 73.40,287.00 C73.74,284.33 74.19,280.58 74.35,279.30 Z" fill="#3c3ca6"/>
<line x1="74.60" y1="312.90" x2="74.60" y2="340.20" stroke="#000" stroke-width="1.4"/>
<circle cx="74.60" cy="326.3" r="2.5" fill="#000"/>
<path d="M121.15,283.90 C121.36,284.75 121.94,287.32 122.40,289.00 C122.86,290.68 122.75,291.83 123.90,294.00 C125.05,296.17 125.82,299.00 129.30,302.00 C132.78,305.00 143.53,308.93 144.80,312.00 C146.07,315.07 139.35,317.60 136.90,320.40 C134.45,323.20 132.27,326.00 130.10,328.80 C127.93,331.60 125.23,335.25 123.90,337.20 C122.57,339.15 122.56,339.53 122.10,340.50 C121.64,341.47 121.31,342.58 121.15,343.00 L120.65,343.00 C120.49,342.58 120.16,341.47 119.70,340.50 C119.24,339.53 119.23,339.15 117.90,337.20 C116.57,335.25 113.87,331.60 111.70,328.80 C109.53,326.00 107.35,323.20 104.90,320.40 C102.45,317.60 95.73,315.07 97.00,312.00 C98.27,308.93 109.02,305.00 112.50,302.00 C115.98,299.00 116.75,296.17 117.90,294.00 C119.05,291.83 118.94,290.68 119.40,289.00 C119.86,287.32 120.44,284.75 120.65,283.90 Z" fill="#b32727"/>
<line x1="120.90" y1="304.50" x2="120.90" y2="322.40" stroke="#000" stroke-width="1.4"/>
<circle cx="120.90" cy="313.4" r="2.5" fill="#000"/>
<line x1="46.50" y1="391.40" x2="149.10" y2="391.40" stroke="#000" stroke-width="1.2"/>
<line x1="74.60" y1="391.40" x2="74.60" y2="393.80" stroke="#000" stroke-width="1.1"/>
<text x="74.60" y="404.30" font-size="9.4" text-anchor="middle" stroke="#111" stroke-width="0.22">Low</text>
<line x1="120.90" y1="391.40" x2="120.90" y2="393.80" stroke="#000" stroke-width="1.1"/>
<text x="120.90" y="404.30" font-size="9.4" text-anchor="middle" stroke="#111" stroke-width="0.22">High</text>
<rect x="152.70" y="235.6" width="101.40" height="10.6" fill="#fff" stroke="#000" stroke-width="1.2"/>
<text x="203.40" y="242.90" font-size="6.7" text-anchor="middle" stroke="#111" stroke-width="0.12">Collagen Fibril Organization</text>
<path d="M180.20,261.6 V257.8 H226.50 V261.6" fill="none" stroke="#000" stroke-width="1"/>
<text x="202.15" y="256.20" font-size="6.3" text-anchor="middle" stroke="#111" stroke-width="0.12">***</text>
<path d="M180.45,252.00 C180.66,253.67 181.04,258.70 181.70,262.00 C182.36,265.30 182.42,267.37 184.40,271.80 C186.38,276.23 191.00,283.02 193.60,288.60 C196.20,294.18 198.90,300.57 200.00,305.30 C201.10,310.03 200.25,312.80 200.20,317.00 C200.15,321.20 200.93,326.30 199.70,330.50 C198.47,334.70 195.55,338.00 192.80,342.20 C190.05,346.40 185.10,352.23 183.20,355.70 C181.30,359.17 181.86,360.62 181.40,363.00 C180.94,365.38 180.61,368.83 180.45,370.00 L179.95,370.00 C179.79,368.83 179.46,365.38 179.00,363.00 C178.54,360.62 179.10,359.17 177.20,355.70 C175.30,352.23 170.35,346.40 167.60,342.20 C164.85,338.00 161.93,334.70 160.70,330.50 C159.47,326.30 160.25,321.20 160.20,317.00 C160.15,312.80 159.30,310.03 160.40,305.30 C161.50,300.57 164.20,294.18 166.80,288.60 C169.40,283.02 174.02,276.23 176.00,271.80 C177.98,267.37 178.04,265.30 178.70,262.00 C179.36,258.70 179.74,253.67 179.95,252.00 Z" fill="#3c3ca6"/>
<line x1="180.20" y1="300.30" x2="180.20" y2="335.50" stroke="#000" stroke-width="1.4"/>
<circle cx="180.20" cy="317.9" r="2.5" fill="#000"/>
<path d="M226.75,259.30 C227.21,259.98 227.24,260.48 229.50,263.40 C231.76,266.32 237.17,272.60 240.30,276.80 C243.43,281.00 246.62,283.85 248.30,288.60 C249.98,293.35 251.65,300.27 250.40,305.30 C249.15,310.33 243.95,314.88 240.80,318.80 C237.65,322.72 233.63,326.10 231.50,328.80 C229.37,331.50 228.79,332.90 228.00,335.00 C227.21,337.10 226.96,340.33 226.75,341.40 L226.25,341.40 C226.04,340.33 225.79,337.10 225.00,335.00 C224.21,332.90 223.63,331.50 221.50,328.80 C219.37,326.10 215.35,322.72 212.20,318.80 C209.05,314.88 203.85,310.33 202.60,305.30 C201.35,300.27 203.02,293.35 204.70,288.60 C206.38,283.85 209.57,281.00 212.70,276.80 C215.83,272.60 221.24,266.32 223.50,263.40 C225.76,260.48 225.79,259.98 226.25,259.30 Z" fill="#b32727"/>
<line x1="226.50" y1="286.90" x2="226.50" y2="313.70" stroke="#000" stroke-width="1.4"/>
<circle cx="226.50" cy="300.3" r="2.5" fill="#000"/>
<line x1="152.10" y1="391.40" x2="254.70" y2="391.40" stroke="#000" stroke-width="1.2"/>
<line x1="180.20" y1="391.40" x2="180.20" y2="393.80" stroke="#000" stroke-width="1.1"/>
<text x="180.20" y="404.30" font-size="9.4" text-anchor="middle" stroke="#111" stroke-width="0.22">Low</text>
<line x1="226.50" y1="391.40" x2="226.50" y2="393.80" stroke="#000" stroke-width="1.1"/>
<text x="226.50" y="404.30" font-size="9.4" text-anchor="middle" stroke="#111" stroke-width="0.22">High</text>
<rect x="258.50" y="235.6" width="101.40" height="10.6" fill="#fff" stroke="#000" stroke-width="1.2"/>
<text x="309.20" y="242.90" font-size="6.7" text-anchor="middle" stroke="#111" stroke-width="0.12">ECM Receptor Interaction</text>
<path d="M286.00,261.6 V257.8 H332.30 V261.6" fill="none" stroke="#000" stroke-width="1"/>
<text x="307.95" y="256.20" font-size="6.3" text-anchor="middle" stroke="#111" stroke-width="0.12">***</text>
<path d="M286.25,276.00 C286.41,277.33 286.82,281.35 287.20,284.00 C287.57,286.65 287.45,288.90 288.50,291.90 C289.55,294.90 291.12,298.37 293.50,302.00 C295.88,305.63 300.45,308.95 302.80,313.70 C305.15,318.45 307.75,325.75 307.60,330.50 C307.45,335.25 304.25,338.57 301.90,342.20 C299.55,345.83 295.82,349.50 293.50,352.30 C291.18,355.10 289.08,357.22 288.00,359.00 C286.92,360.78 287.29,361.60 287.00,363.00 C286.71,364.40 286.38,366.67 286.25,367.40 L285.75,367.40 C285.62,366.67 285.29,364.40 285.00,363.00 C284.71,361.60 285.08,360.78 284.00,359.00 C282.92,357.22 280.82,355.10 278.50,352.30 C276.18,349.50 272.45,345.83 270.10,342.20 C267.75,338.57 264.55,335.25 264.40,330.50 C264.25,325.75 266.85,318.45 269.20,313.70 C271.55,308.95 276.12,305.63 278.50,302.00 C280.88,298.37 282.45,294.90 283.50,291.90 C284.55,288.90 284.43,286.65 284.80,284.00 C285.18,281.35 285.59,277.33 285.75,276.00 Z" fill="#3c3ca6"/>
<line x1="286.00" y1="315.70" x2="286.00" y2="341.90" stroke="#000" stroke-width="1.4"/>
<circle cx="286.00" cy="328.5" r="2.5" fill="#000"/>
<path d="M332.55,275.50 C332.72,276.75 333.14,280.55 333.60,283.00 C334.06,285.45 333.48,287.60 335.30,290.20 C337.12,292.80 341.78,296.08 344.50,298.60 C347.22,301.12 349.67,302.37 351.60,305.30 C353.53,308.23 355.75,312.28 356.10,316.20 C356.45,320.12 356.27,325.30 353.70,328.80 C351.13,332.30 343.93,334.97 340.70,337.20 C337.47,339.43 335.66,340.67 334.30,342.20 C332.94,343.73 332.84,345.70 332.55,346.40 L332.05,346.40 C331.76,345.70 331.66,343.73 330.30,342.20 C328.94,340.67 327.13,339.43 323.90,337.20 C320.67,334.97 313.47,332.30 310.90,328.80 C308.33,325.30 308.15,320.12 308.50,316.20 C308.85,312.28 311.07,308.23 313.00,305.30 C314.93,302.37 317.38,301.12 320.10,298.60 C322.82,296.08 327.48,292.80 329.30,290.20 C331.12,287.60 330.54,285.45 331.00,283.00 C331.46,280.55 331.87,276.75 332.05,275.50 Z" fill="#b32727"/>
<line x1="332.30" y1="305.00" x2="332.30" y2="327.50" stroke="#000" stroke-width="1.4"/>
<circle cx="332.30" cy="316.2" r="2.5" fill="#000"/>
<line x1="257.90" y1="391.40" x2="360.50" y2="391.40" stroke="#000" stroke-width="1.2"/>
<line x1="286.00" y1="391.40" x2="286.00" y2="393.80" stroke="#000" stroke-width="1.1"/>
<text x="286.00" y="404.30" font-size="9.4" text-anchor="middle" stroke="#111" stroke-width="0.22">Low</text>
<line x1="332.30" y1="391.40" x2="332.30" y2="393.80" stroke="#000" stroke-width="1.1"/>
<text x="332.30" y="404.30" font-size="9.4" text-anchor="middle" stroke="#111" stroke-width="0.22">High</text>
<rect x="363.70" y="235.6" width="101.40" height="10.6" fill="#fff" stroke="#000" stroke-width="1.2"/>
<text x="414.40" y="242.90" font-size="6.7" text-anchor="middle" stroke="#111" stroke-width="0.12">TGF-β Signaling</text>
<path d="M391.20,261.6 V257.8 H437.50 V261.6" fill="none" stroke="#000" stroke-width="1"/>
<text x="413.15" y="256.20" font-size="6.3" text-anchor="middle" stroke="#111" stroke-width="0.12">***</text>
<path d="M391.45,258.70 C391.54,260.58 391.79,265.65 392.00,270.00 C392.21,274.35 392.30,278.57 392.70,284.80 C393.10,291.03 393.13,301.03 394.40,307.40 C395.67,313.77 398.00,318.07 400.30,323.00 C402.60,327.93 405.73,332.65 408.20,337.00 C410.67,341.35 415.60,346.07 415.10,349.10 C414.60,352.13 405.97,353.45 405.20,355.20 C404.43,356.95 411.45,357.85 410.50,359.60 C409.55,361.35 402.38,364.22 399.50,365.70 C396.62,367.18 394.54,367.78 393.20,368.50 C391.86,369.22 391.74,369.75 391.45,370.00 L390.95,370.00 C390.66,369.75 390.54,369.22 389.20,368.50 C387.86,367.78 385.78,367.18 382.90,365.70 C380.02,364.22 372.85,361.35 371.90,359.60 C370.95,357.85 377.97,356.95 377.20,355.20 C376.43,353.45 367.80,352.13 367.30,349.10 C366.80,346.07 371.73,341.35 374.20,337.00 C376.67,332.65 379.80,327.93 382.10,323.00 C384.40,318.07 386.73,313.77 388.00,307.40 C389.27,301.03 389.30,291.03 389.70,284.80 C390.10,278.57 390.19,274.35 390.40,270.00 C390.61,265.65 390.86,260.58 390.95,258.70 Z" fill="#3c3ca6"/>
<line x1="391.20" y1="324.40" x2="391.20" y2="357.00" stroke="#000" stroke-width="1.4"/>
<circle cx="391.20" cy="340.4" r="2.5" fill="#000"/>
<path d="M437.75,260.40 C437.91,261.67 438.16,265.10 438.70,268.00 C439.24,270.90 439.60,273.27 441.00,277.80 C442.40,282.33 445.58,289.68 447.10,295.20 C448.62,300.72 449.53,306.27 450.10,310.90 C450.67,315.53 450.25,319.23 450.50,323.00 C450.75,326.77 452.17,329.43 451.60,333.50 C451.03,337.57 448.80,342.77 447.10,347.40 C445.40,352.03 442.75,357.25 441.40,361.30 C440.05,365.35 439.61,367.78 439.00,371.70 C438.39,375.62 437.96,382.62 437.75,384.80 L437.25,384.80 C437.04,382.62 436.61,375.62 436.00,371.70 C435.39,367.78 434.95,365.35 433.60,361.30 C432.25,357.25 429.60,352.03 427.90,347.40 C426.20,342.77 423.97,337.57 423.40,333.50 C422.83,329.43 424.25,326.77 424.50,323.00 C424.75,319.23 424.33,315.53 424.90,310.90 C425.47,306.27 426.38,300.72 427.90,295.20 C429.42,289.68 432.60,282.33 434.00,277.80 C435.40,273.27 435.76,270.90 436.30,268.00 C436.84,265.10 437.09,261.67 437.25,260.40 Z" fill="#b32727"/>
<line x1="437.50" y1="306.00" x2="437.50" y2="343.90" stroke="#000" stroke-width="1.4"/>
<circle cx="437.50" cy="324.8" r="2.5" fill="#000"/>
<line x1="363.10" y1="391.40" x2="465.70" y2="391.40" stroke="#000" stroke-width="1.2"/>
<line x1="391.20" y1="391.40" x2="391.20" y2="393.80" stroke="#000" stroke-width="1.1"/>
<text x="391.20" y="404.30" font-size="9.4" text-anchor="middle" stroke="#111" stroke-width="0.22">Low</text>
<line x1="437.50" y1="391.40" x2="437.50" y2="393.80" stroke="#000" stroke-width="1.1"/>
<text x="437.50" y="404.30" font-size="9.4" text-anchor="middle" stroke="#111" stroke-width="0.22">High</text>
<line x1="46.50" y1="246.50" x2="46.50" y2="392.00" stroke="#000" stroke-width="1.2"/>
<line x1="43.70" y1="247.20" x2="46.50" y2="247.20" stroke="#000" stroke-width="1.1"/>
<text x="42.20" y="250.60" font-size="9.4" text-anchor="end" stroke="#111" stroke-width="0.22">0.5</text>
<line x1="43.70" y1="270.03" x2="46.50" y2="270.03" stroke="#000" stroke-width="1.1"/>
<text x="42.20" y="273.43" font-size="9.4" text-anchor="end" stroke="#111" stroke-width="0.22">0.4</text>
<line x1="43.70" y1="292.86" x2="46.50" y2="292.86" stroke="#000" stroke-width="1.1"/>
<text x="42.20" y="296.26" font-size="9.4" text-anchor="end" stroke="#111" stroke-width="0.22">0.3</text>
<line x1="43.70" y1="315.69" x2="46.50" y2="315.69" stroke="#000" stroke-width="1.1"/>
<text x="42.20" y="319.09" font-size="9.4" text-anchor="end" stroke="#111" stroke-width="0.22">0.2</text>
<line x1="43.70" y1="338.52" x2="46.50" y2="338.52" stroke="#000" stroke-width="1.1"/>
<text x="42.20" y="341.92" font-size="9.4" text-anchor="end" stroke="#111" stroke-width="0.22">0.1</text>
<line x1="43.70" y1="361.35" x2="46.50" y2="361.35" stroke="#000" stroke-width="1.1"/>
<text x="42.20" y="364.75" font-size="9.4" text-anchor="end" stroke="#111" stroke-width="0.22">0.0</text>
<line x1="43.70" y1="384.18" x2="46.50" y2="384.18" stroke="#000" stroke-width="1.1"/>
<text x="42.20" y="387.58" font-size="9.4" text-anchor="end" stroke="#111" stroke-width="0.22">-0.1</text>
<text x="23.60" y="313.00" font-size="9.4" text-anchor="middle" textLength="44.5" lengthAdjust="spacingAndGlyphs" transform="rotate(-90 23.6 313)" stroke="#111" stroke-width="0.22">Fibroblast</text>
<text transform="translate(484.10 232.20) scale(0.791 1)" font-size="19.91" fill="#231815" stroke="#231815" stroke-width="0.35" stroke-linejoin="round">E</text>
<line x1="558.80" y1="227.26" x2="558.80" y2="386.16" stroke="#000" stroke-width="1.6"/>
<line x1="552.00" y1="228.06" x2="558.80" y2="228.06" stroke="#000" stroke-width="1.6"/>
<text x="549.40" y="231.36" font-size="9" text-anchor="end" stroke="#111" stroke-width="0.22">8</text>
<line x1="552.00" y1="259.52" x2="558.80" y2="259.52" stroke="#000" stroke-width="1.6"/>
<text x="549.40" y="262.82" font-size="9" text-anchor="end" stroke="#111" stroke-width="0.22">6</text>
<line x1="552.00" y1="290.98" x2="558.80" y2="290.98" stroke="#000" stroke-width="1.6"/>
<text x="549.40" y="294.28" font-size="9" text-anchor="end" stroke="#111" stroke-width="0.22">4</text>
<line x1="552.00" y1="322.44" x2="558.80" y2="322.44" stroke="#000" stroke-width="1.6"/>
<text x="549.40" y="325.74" font-size="9" text-anchor="end" stroke="#111" stroke-width="0.22">2</text>
<line x1="552.00" y1="353.90" x2="558.80" y2="353.90" stroke="#000" stroke-width="1.6"/>
<text x="549.40" y="357.20" font-size="9" text-anchor="end" stroke="#111" stroke-width="0.22">0</text>
<line x1="552.00" y1="385.36" x2="558.80" y2="385.36" stroke="#000" stroke-width="1.6"/>
<text x="549.40" y="388.66" font-size="9" text-anchor="end" stroke="#111" stroke-width="0.22">-2</text>
<line x1="552.00" y1="385.36" x2="664.80" y2="385.36" stroke="#000" stroke-width="1.6"/>
<line x1="588.20" y1="385.36" x2="588.20" y2="391.86" stroke="#000" stroke-width="1.6"/>
<line x1="633.60" y1="385.36" x2="633.60" y2="391.86" stroke="#000" stroke-width="1.6"/>
<text x="583.00" y="404.20" font-size="8.8" text-anchor="middle" textLength="46.8" lengthAdjust="spacingAndGlyphs" stroke="#111" stroke-width="0.22">AN (N = 16)</text>
<text x="635.20" y="404.20" font-size="8.8" text-anchor="middle" textLength="46.9" lengthAdjust="spacingAndGlyphs" stroke="#111" stroke-width="0.22">GC (N = 16)</text>
<text x="518.30" y="307.70" font-size="9.4" text-anchor="middle" textLength="113.7" lengthAdjust="spacingAndGlyphs" transform="rotate(-90 518.3 307.7)" stroke="#111" stroke-width="0.22">The expression of ULBP2</text>
<text x="531.6" y="302.5" font-size="9.4" text-anchor="middle" transform="rotate(-90 531.6 302.5)">Log<tspan font-size="6.2" dy="2">2</tspan><tspan dy="-2"> (TPM+1)</tspan></text>
<line x1="588.30" y1="339.74" x2="633.60" y2="364.91" stroke="#111" stroke-width="0.9"/>
<line x1="588.30" y1="347.61" x2="633.60" y2="312.22" stroke="#111" stroke-width="0.9"/>
<line x1="588.30" y1="349.18" x2="633.60" y2="291.77" stroke="#111" stroke-width="0.9"/>
<line x1="588.30" y1="350.75" x2="633.60" y2="268.17" stroke="#111" stroke-width="0.9"/>
<line x1="588.30" y1="352.33" x2="633.60" y2="330.30" stroke="#111" stroke-width="0.9"/>
<line x1="588.30" y1="353.90" x2="633.60" y2="290.19" stroke="#111" stroke-width="0.9"/>
<line x1="588.30" y1="355.47" x2="633.60" y2="340.53" stroke="#111" stroke-width="0.9"/>
<line x1="588.30" y1="357.05" x2="633.60" y2="338.96" stroke="#111" stroke-width="0.9"/>
<line x1="588.30" y1="358.62" x2="633.60" y2="342.10" stroke="#111" stroke-width="0.9"/>
<line x1="588.30" y1="359.41" x2="633.60" y2="293.34" stroke="#111" stroke-width="0.9"/>
<line x1="588.30" y1="360.19" x2="633.60" y2="343.68" stroke="#111" stroke-width="0.9"/>
<line x1="588.30" y1="360.98" x2="633.60" y2="353.11" stroke="#111" stroke-width="0.9"/>
<line x1="588.30" y1="361.76" x2="633.60" y2="354.69" stroke="#111" stroke-width="0.9"/>
<line x1="588.30" y1="362.55" x2="633.60" y2="356.26" stroke="#111" stroke-width="0.9"/>
<line x1="588.30" y1="363.34" x2="633.60" y2="358.62" stroke="#111" stroke-width="0.9"/>
<line x1="588.30" y1="363.65" x2="633.60" y2="353.90" stroke="#111" stroke-width="0.9"/>
<circle cx="588.3" cy="339.74" r="2.5" fill="#2222f2"/>
<circle cx="588.3" cy="347.61" r="2.5" fill="#2222f2"/>
<circle cx="588.3" cy="349.18" r="2.5" fill="#2222f2"/>
<circle cx="588.3" cy="350.75" r="2.5" fill="#2222f2"/>
<circle cx="588.3" cy="352.33" r="2.5" fill="#2222f2"/>
<circle cx="588.3" cy="353.90" r="2.5" fill="#2222f2"/>
<circle cx="588.3" cy="355.47" r="2.5" fill="#2222f2"/>
<circle cx="588.3" cy="357.05" r="2.5" fill="#2222f2"/>
<circle cx="588.3" cy="358.62" r="2.5" fill="#2222f2"/>
<circle cx="588.3" cy="359.41" r="2.5" fill="#2222f2"/>
<circle cx="588.3" cy="360.19" r="2.5" fill="#2222f2"/>
<circle cx="588.3" cy="360.98" r="2.5" fill="#2222f2"/>
<circle cx="588.3" cy="361.76" r="2.5" fill="#2222f2"/>
<circle cx="588.3" cy="362.55" r="2.5" fill="#2222f2"/>
<circle cx="588.3" cy="363.34" r="2.5" fill="#2222f2"/>
<circle cx="588.3" cy="363.65" r="2.5" fill="#2222f2"/>
<circle cx="633.6" cy="364.91" r="2.5" fill="#ab2020"/>
<circle cx="633.6" cy="268.17" r="2.5" fill="#ab2020"/>
<circle cx="633.6" cy="290.19" r="2.5" fill="#ab2020"/>
<circle cx="633.6" cy="291.77" r="2.5" fill="#ab2020"/>
<circle cx="633.6" cy="293.34" r="2.5" fill="#ab2020"/>
<circle cx="633.6" cy="312.22" r="2.5" fill="#ab2020"/>
<circle cx="633.6" cy="330.30" r="2.5" fill="#ab2020"/>
<circle cx="633.6" cy="338.96" r="2.5" fill="#ab2020"/>
<circle cx="633.6" cy="340.53" r="2.5" fill="#ab2020"/>
<circle cx="633.6" cy="342.10" r="2.5" fill="#ab2020"/>
<circle cx="633.6" cy="343.68" r="2.5" fill="#ab2020"/>
<circle cx="633.6" cy="353.11" r="2.5" fill="#ab2020"/>
<circle cx="633.6" cy="354.69" r="2.5" fill="#ab2020"/>
<circle cx="633.6" cy="356.26" r="2.5" fill="#ab2020"/>
<circle cx="633.6" cy="358.62" r="2.5" fill="#ab2020"/>
<circle cx="633.6" cy="353.90" r="2.5" fill="#ab2020"/>
<text transform="translate(3.20 435.80) scale(0.781 1)" font-size="19.91" fill="#231815" stroke="#231815" stroke-width="0.35" stroke-linejoin="round">F</text>
<text x="77.20" y="448.10" font-size="9.4" text-anchor="middle" textLength="30.1" lengthAdjust="spacingAndGlyphs" stroke="#111" stroke-width="0.22">Case 1</text>
<line x1="44.00" y1="451.80" x2="116.00" y2="451.80" stroke="#000" stroke-width="1.3"/>
<text x="61.30" y="462.00" font-size="9.4" text-anchor="middle" stroke="#111" stroke-width="0.22">GC</text>
<text x="97.70" y="462.00" font-size="9.4" text-anchor="middle" stroke="#111" stroke-width="0.22">AN</text>
<g clip-path="url(#cp1_466)">
<rect x="42.6" y="466.3" width="75.2" height="23.5" fill="url(#blotbg)"/>
<g filter="url(#bl20)" fill="rgb(65,65,65)">
<ellipse cx="62.50" cy="478.65" rx="16.50" ry="5.00"/>
<ellipse cx="52.60" cy="477.25" rx="6.60" ry="5.50"/>
<ellipse cx="72.40" cy="477.25" rx="6.60" ry="5.50"/>
</g>
<g filter="url(#bl20)" fill="rgb(168,168,168)">
<ellipse cx="99.50" cy="478.65" rx="14.50" ry="4.25"/>
<ellipse cx="90.80" cy="477.45" rx="5.80" ry="4.68"/>
<ellipse cx="108.20" cy="477.45" rx="5.80" ry="4.68"/>
</g>
</g>
<rect x="42.6" y="466.3" width="75.2" height="23.5" fill="none" stroke="#000" stroke-width="1.3"/>
<g clip-path="url(#cp1_495)">
<rect x="42.6" y="495.7" width="75.2" height="24.900000000000034" fill="url(#blotbg)"/>
<g filter="url(#bl10)" fill="rgb(5,5,5)">
<ellipse cx="64.00" cy="508.75" rx="14.00" ry="4.75"/>
<ellipse cx="55.60" cy="506.95" rx="5.60" ry="6.41"/>
<ellipse cx="72.40" cy="506.95" rx="5.60" ry="6.41"/>
</g>
<g filter="url(#bl10)" fill="rgb(5,5,5)">
<ellipse cx="99.75" cy="508.75" rx="13.25" ry="4.75"/>
<ellipse cx="91.80" cy="506.95" rx="5.30" ry="6.41"/>
<ellipse cx="107.70" cy="506.95" rx="5.30" ry="6.41"/>
</g>
</g>
<rect x="42.6" y="495.7" width="75.2" height="24.900000000000034" fill="none" stroke="#000" stroke-width="1.3"/>
<text x="155.90" y="448.10" font-size="9.4" text-anchor="middle" textLength="30.1" lengthAdjust="spacingAndGlyphs" stroke="#111" stroke-width="0.22">Case 2</text>
<line x1="122.70" y1="451.80" x2="194.70" y2="451.80" stroke="#000" stroke-width="1.3"/>
<text x="141.50" y="462.00" font-size="9.4" text-anchor="middle" stroke="#111" stroke-width="0.22">GC</text>
<text x="177.80" y="462.00" font-size="9.4" text-anchor="middle" stroke="#111" stroke-width="0.22">AN</text>
<g clip-path="url(#cp2_466)">
<rect x="121.3" y="466.3" width="75.2" height="23.5" fill="url(#blotbg)"/>
<g filter="url(#bl13)" fill="rgb(5,5,5)">
<ellipse cx="141.50" cy="478.65" rx="17.00" ry="5.50"/>
<ellipse cx="131.30" cy="477.65" rx="6.80" ry="6.05"/>
<ellipse cx="151.70" cy="477.65" rx="6.80" ry="6.05"/>
</g>
<g filter="url(#bl22)" fill="rgb(145,145,145)">
<ellipse cx="179.00" cy="478.65" rx="15.00" ry="4.25"/>
<ellipse cx="170.00" cy="477.65" rx="6.00" ry="4.68"/>
<ellipse cx="188.00" cy="477.65" rx="6.00" ry="4.68"/>
</g>
</g>
<rect x="121.3" y="466.3" width="75.2" height="23.5" fill="none" stroke="#000" stroke-width="1.3"/>
<g clip-path="url(#cp2_495)">
<rect x="121.3" y="495.7" width="75.2" height="24.900000000000034" fill="url(#blotbg)"/>
<g filter="url(#bl10)" fill="rgb(5,5,5)">
<ellipse cx="141.50" cy="508.75" rx="14.00" ry="4.75"/>
<ellipse cx="133.10" cy="506.75" rx="5.60" ry="6.41"/>
<ellipse cx="149.90" cy="506.75" rx="5.60" ry="6.41"/>
</g>
<g filter="url(#bl10)" fill="rgb(5,5,5)">
<ellipse cx="177.25" cy="508.75" rx="12.75" ry="4.75"/>
<ellipse cx="169.60" cy="506.75" rx="5.10" ry="6.41"/>
<ellipse cx="184.90" cy="506.75" rx="5.10" ry="6.41"/>
</g>
</g>
<rect x="121.3" y="495.7" width="75.2" height="24.900000000000034" fill="none" stroke="#000" stroke-width="1.3"/>
<text x="235.20" y="448.10" font-size="9.4" text-anchor="middle" textLength="30.1" lengthAdjust="spacingAndGlyphs" stroke="#111" stroke-width="0.22">Case 3</text>
<line x1="202.00" y1="451.80" x2="274.00" y2="451.80" stroke="#000" stroke-width="1.3"/>
<text x="220.40" y="462.00" font-size="9.4" text-anchor="middle" stroke="#111" stroke-width="0.22">GC</text>
<text x="256.90" y="462.00" font-size="9.4" text-anchor="middle" stroke="#111" stroke-width="0.22">AN</text>
<g clip-path="url(#cp3_466)">
<rect x="200.6" y="466.3" width="75.2" height="23.5" fill="url(#blotbg)"/>
<g filter="url(#bl14)" fill="rgb(35,35,35)">
<ellipse cx="219.75" cy="478.65" rx="16.25" ry="3.75"/>
<ellipse cx="210.00" cy="477.85" rx="6.50" ry="4.12"/>
<ellipse cx="229.50" cy="477.85" rx="6.50" ry="4.12"/>
</g>
<g filter="url(#bl20)" fill="rgb(178,178,178)">
<ellipse cx="257.50" cy="478.65" rx="14.50" ry="3.50"/>
<ellipse cx="248.80" cy="477.85" rx="5.80" ry="3.85"/>
<ellipse cx="266.20" cy="477.85" rx="5.80" ry="3.85"/>
</g>
</g>
<rect x="200.6" y="466.3" width="75.2" height="23.5" fill="none" stroke="#000" stroke-width="1.3"/>
<g clip-path="url(#cp3_495)">
<rect x="200.6" y="495.7" width="75.2" height="24.900000000000034" fill="url(#blotbg)"/>
<g filter="url(#bl10)" fill="rgb(5,5,5)">
<ellipse cx="220.75" cy="508.75" rx="13.25" ry="4.75"/>
<ellipse cx="212.80" cy="507.15" rx="5.30" ry="6.17"/>
<ellipse cx="228.70" cy="507.15" rx="5.30" ry="6.17"/>
</g>
<g filter="url(#bl10)" fill="rgb(5,5,5)">
<ellipse cx="256.50" cy="508.75" rx="13.00" ry="4.75"/>
<ellipse cx="248.70" cy="507.15" rx="5.20" ry="6.17"/>
<ellipse cx="264.30" cy="507.15" rx="5.20" ry="6.17"/>
</g>
</g>
<rect x="200.6" y="495.7" width="75.2" height="24.900000000000034" fill="none" stroke="#000" stroke-width="1.3"/>
<text x="5.70" y="482.20" font-size="9.4" textLength="30.7" lengthAdjust="spacingAndGlyphs" stroke="#111" stroke-width="0.22">ULBP2</text>
<text x="2.20" y="510.70" font-size="9.4" textLength="36.8" lengthAdjust="spacingAndGlyphs" stroke="#111" stroke-width="0.22">GAPDH</text>
<text x="77.20" y="535.30" font-size="9.4" text-anchor="middle" textLength="30.1" lengthAdjust="spacingAndGlyphs" stroke="#111" stroke-width="0.22">Case 4</text>
<line x1="44.00" y1="540.10" x2="116.00" y2="540.10" stroke="#000" stroke-width="1.3"/>
<text x="61.30" y="551.60" font-size="9.4" text-anchor="middle" stroke="#111" stroke-width="0.22">GC</text>
<text x="97.70" y="551.60" font-size="9.4" text-anchor="middle" stroke="#111" stroke-width="0.22">AN</text>
<g clip-path="url(#cp4_555)">
<rect x="42.6" y="555.3" width="75.2" height="24.100000000000023" fill="url(#blotbg)"/>
<g filter="url(#bl20)" fill="rgb(100,100,100)">
<ellipse cx="65.75" cy="567.95" rx="16.25" ry="5.00"/>
<ellipse cx="56.00" cy="565.75" rx="6.50" ry="5.50"/>
<ellipse cx="75.50" cy="565.75" rx="6.50" ry="5.50"/>
</g>
<g filter="url(#bl20)" fill="rgb(180,180,180)">
<ellipse cx="101.00" cy="567.95" rx="13.00" ry="3.75"/>
<ellipse cx="93.20" cy="566.95" rx="5.20" ry="4.12"/>
<ellipse cx="108.80" cy="566.95" rx="5.20" ry="4.12"/>
</g>
</g>
<rect x="42.6" y="555.3" width="75.2" height="24.100000000000023" fill="none" stroke="#000" stroke-width="1.3"/>
<g clip-path="url(#cp4_585)">
<rect x="42.6" y="585.1" width="75.2" height="24.399999999999977" fill="url(#blotbg)"/>
<g filter="url(#bl10)" fill="rgb(5,5,5)">
<ellipse cx="64.25" cy="597.90" rx="12.75" ry="4.75"/>
<ellipse cx="56.60" cy="596.30" rx="5.10" ry="6.41"/>
<ellipse cx="71.90" cy="596.30" rx="5.10" ry="6.41"/>
</g>
<g filter="url(#bl10)" fill="rgb(5,5,5)">
<ellipse cx="99.25" cy="597.90" rx="14.25" ry="4.75"/>
<ellipse cx="90.70" cy="596.70" rx="5.70" ry="6.41"/>
<ellipse cx="107.80" cy="596.70" rx="5.70" ry="6.41"/>
</g>
</g>
<rect x="42.6" y="585.1" width="75.2" height="24.399999999999977" fill="none" stroke="#000" stroke-width="1.3"/>
<text x="155.90" y="535.30" font-size="9.4" text-anchor="middle" textLength="30.1" lengthAdjust="spacingAndGlyphs" stroke="#111" stroke-width="0.22">Case 5</text>
<line x1="122.70" y1="540.10" x2="194.70" y2="540.10" stroke="#000" stroke-width="1.3"/>
<text x="141.50" y="551.60" font-size="9.4" text-anchor="middle" stroke="#111" stroke-width="0.22">GC</text>
<text x="177.80" y="551.60" font-size="9.4" text-anchor="middle" stroke="#111" stroke-width="0.22">AN</text>
<g clip-path="url(#cp5_555)">
<rect x="121.3" y="555.3" width="75.2" height="24.100000000000023" fill="url(#blotbg)"/>
<g filter="url(#bl13)" fill="rgb(5,5,5)">
<ellipse cx="144.25" cy="567.95" rx="16.25" ry="5.50"/>
<ellipse cx="134.50" cy="566.75" rx="6.50" ry="6.05"/>
<ellipse cx="154.00" cy="566.75" rx="6.50" ry="6.05"/>
</g>
<g filter="url(#bl15)" fill="rgb(85,85,85)">
<ellipse cx="178.00" cy="567.95" rx="13.50" ry="3.25"/>
<ellipse cx="169.90" cy="567.15" rx="5.40" ry="3.58"/>
<ellipse cx="186.10" cy="567.15" rx="5.40" ry="3.58"/>
</g>
</g>
<rect x="121.3" y="555.3" width="75.2" height="24.100000000000023" fill="none" stroke="#000" stroke-width="1.3"/>
<g clip-path="url(#cp5_585)">
<rect x="121.3" y="585.1" width="75.2" height="24.399999999999977" fill="url(#blotbg)"/>
<g filter="url(#bl10)" fill="rgb(5,5,5)">
<ellipse cx="142.50" cy="597.90" rx="12.50" ry="4.75"/>
<ellipse cx="135.00" cy="596.50" rx="5.00" ry="6.17"/>
<ellipse cx="150.00" cy="596.50" rx="5.00" ry="6.17"/>
</g>
<g filter="url(#bl10)" fill="rgb(5,5,5)">
<ellipse cx="176.50" cy="597.90" rx="13.50" ry="4.75"/>
<ellipse cx="168.40" cy="596.30" rx="5.40" ry="6.17"/>
<ellipse cx="184.60" cy="596.30" rx="5.40" ry="6.17"/>
</g>
</g>
<rect x="121.3" y="585.1" width="75.2" height="24.399999999999977" fill="none" stroke="#000" stroke-width="1.3"/>
<text x="235.20" y="535.30" font-size="9.4" text-anchor="middle" textLength="30.1" lengthAdjust="spacingAndGlyphs" stroke="#111" stroke-width="0.22">Case 6</text>
<line x1="202.00" y1="540.10" x2="274.00" y2="540.10" stroke="#000" stroke-width="1.3"/>
<text x="220.40" y="551.60" font-size="9.4" text-anchor="middle" stroke="#111" stroke-width="0.22">GC</text>
<text x="256.90" y="551.60" font-size="9.4" text-anchor="middle" stroke="#111" stroke-width="0.22">AN</text>
<g clip-path="url(#cp6_555)">
<rect x="200.6" y="555.3" width="75.2" height="24.100000000000023" fill="url(#blotbg)"/>
<g filter="url(#bl13)" fill="rgb(8,8,8)">
<ellipse cx="221.50" cy="567.95" rx="15.50" ry="4.75"/>
<ellipse cx="212.20" cy="566.75" rx="6.20" ry="5.23"/>
<ellipse cx="230.80" cy="566.75" rx="6.20" ry="5.23"/>
</g>
<g filter="url(#bl16)" fill="rgb(160,160,160)">
<ellipse cx="256.25" cy="567.95" rx="11.75" ry="3.25"/>
<ellipse cx="249.20" cy="566.95" rx="4.70" ry="3.58"/>
<ellipse cx="263.30" cy="566.95" rx="4.70" ry="3.58"/>
</g>
</g>
<rect x="200.6" y="555.3" width="75.2" height="24.100000000000023" fill="none" stroke="#000" stroke-width="1.3"/>
<g clip-path="url(#cp6_585)">
<rect x="200.6" y="585.1" width="75.2" height="24.399999999999977" fill="url(#blotbg)"/>
<g filter="url(#bl10)" fill="rgb(50,50,50)">
<ellipse cx="224.75" cy="597.90" rx="13.75" ry="2.75"/>
<ellipse cx="216.50" cy="596.90" rx="5.50" ry="3.30"/>
<ellipse cx="233.00" cy="596.90" rx="5.50" ry="3.30"/>
</g>
<g filter="url(#bl10)" fill="rgb(5,5,5)">
<ellipse cx="259.00" cy="597.90" rx="14.50" ry="4.75"/>
<ellipse cx="250.30" cy="596.30" rx="5.80" ry="6.17"/>
<ellipse cx="267.70" cy="596.30" rx="5.80" ry="6.17"/>
</g>
</g>
<rect x="200.6" y="585.1" width="75.2" height="24.399999999999977" fill="none" stroke="#000" stroke-width="1.3"/>
<text x="5.70" y="571.80" font-size="9.4" textLength="30.7" lengthAdjust="spacingAndGlyphs" stroke="#111" stroke-width="0.22">ULBP2</text>
<text x="2.20" y="599.60" font-size="9.4" textLength="36.8" lengthAdjust="spacingAndGlyphs" stroke="#111" stroke-width="0.22">GAPDH</text>
<text transform="translate(283.50 435.90) scale(0.871 1)" font-size="19.77" fill="#231815" stroke="#231815" stroke-width="0.35" stroke-linejoin="round">G</text>
<line x1="331.70" y1="440.39" x2="331.70" y2="591.60" stroke="#000" stroke-width="1.6"/>
<line x1="325.90" y1="441.19" x2="331.70" y2="441.19" stroke="#000" stroke-width="1.6"/>
<text x="322.40" y="444.49" font-size="9" text-anchor="end" stroke="#111" stroke-width="0.22">300</text>
<line x1="325.90" y1="491.06" x2="331.70" y2="491.06" stroke="#000" stroke-width="1.6"/>
<text x="322.40" y="494.36" font-size="9" text-anchor="end" stroke="#111" stroke-width="0.22">200</text>
<line x1="325.90" y1="540.93" x2="331.70" y2="540.93" stroke="#000" stroke-width="1.6"/>
<text x="322.40" y="544.23" font-size="9" text-anchor="end" stroke="#111" stroke-width="0.22">100</text>
<line x1="325.90" y1="590.80" x2="331.70" y2="590.80" stroke="#000" stroke-width="1.6"/>
<text x="322.40" y="594.10" font-size="9" text-anchor="end" stroke="#111" stroke-width="0.22">0</text>
<line x1="331.70" y1="590.80" x2="482.50" y2="590.80" stroke="#000" stroke-width="1.6"/>
<line x1="374.60" y1="590.80" x2="374.60" y2="597.30" stroke="#000" stroke-width="1.6"/>
<line x1="438.80" y1="590.80" x2="438.80" y2="597.30" stroke="#000" stroke-width="1.6"/>
<text x="374.60" y="607.60" font-size="9.3" text-anchor="middle" textLength="44.3" lengthAdjust="spacingAndGlyphs" stroke="#111" stroke-width="0.22">AN (n=62)</text>
<text x="438.80" y="607.60" font-size="9.3" text-anchor="middle" textLength="44.3" lengthAdjust="spacingAndGlyphs" stroke="#111" stroke-width="0.22">GC (n=62)</text>
<text x="301.60" y="518.60" font-size="9.4" text-anchor="middle" textLength="78.7" lengthAdjust="spacingAndGlyphs" transform="rotate(-90 301.6 518.6)" stroke="#111" stroke-width="0.22">ULBP2 IHC Score</text>
<path d="M373.1,489.9 V449.2 H437.3 V460.6" fill="none" stroke="#000" stroke-width="1.1"/>
<text x="406.50" y="450.40" font-size="14.4" text-anchor="middle" textLength="16.6" lengthAdjust="spacingAndGlyphs" stroke="#111" stroke-width="0.22">***</text>
<circle cx="374.64" cy="502.44" r="1.55" fill="#1c1c96"/>
<circle cx="374.64" cy="510.84" r="1.55" fill="#1c1c96"/>
<circle cx="374.64" cy="524.16" r="1.55" fill="#1c1c96"/>
<circle cx="374.64" cy="527.64" r="1.55" fill="#1c1c96"/>
<circle cx="374.64" cy="531.36" r="1.55" fill="#1c1c96"/>
<circle cx="373.20" cy="537.96" r="1.55" fill="#1c1c96"/>
<circle cx="376.20" cy="540.00" r="1.55" fill="#1c1c96"/>
<circle cx="373.20" cy="546.00" r="1.55" fill="#1c1c96"/>
<circle cx="376.20" cy="544.20" r="1.55" fill="#1c1c96"/>
<circle cx="371.64" cy="552.00" r="1.55" fill="#1c1c96"/>
<circle cx="374.64" cy="550.80" r="1.55" fill="#1c1c96"/>
<circle cx="377.40" cy="550.80" r="1.55" fill="#1c1c96"/>
<circle cx="374.64" cy="557.16" r="1.55" fill="#1c1c96"/>
<circle cx="380.40" cy="561.24" r="1.55" fill="#1c1c96"/>
<circle cx="371.64" cy="564.36" r="1.55" fill="#1c1c96"/>
<circle cx="374.64" cy="562.80" r="1.55" fill="#1c1c96"/>
<circle cx="377.40" cy="564.36" r="1.55" fill="#1c1c96"/>
<circle cx="374.64" cy="567.24" r="1.55" fill="#1c1c96"/>
<circle cx="371.64" cy="570.00" r="1.55" fill="#1c1c96"/>
<circle cx="377.40" cy="569.64" r="1.55" fill="#1c1c96"/>
<circle cx="363.24" cy="573.60" r="1.55" fill="#1c1c96"/>
<circle cx="366.00" cy="573.00" r="1.55" fill="#1c1c96"/>
<circle cx="369.00" cy="573.00" r="1.55" fill="#1c1c96"/>
<circle cx="371.64" cy="574.20" r="1.55" fill="#1c1c96"/>
<circle cx="374.64" cy="574.20" r="1.55" fill="#1c1c96"/>
<circle cx="377.40" cy="574.80" r="1.55" fill="#1c1c96"/>
<circle cx="380.40" cy="574.20" r="1.55" fill="#1c1c96"/>
<circle cx="383.40" cy="572.76" r="1.55" fill="#1c1c96"/>
<circle cx="388.80" cy="572.76" r="1.55" fill="#1c1c96"/>
<circle cx="366.00" cy="575.64" r="1.55" fill="#1c1c96"/>
<circle cx="380.40" cy="577.80" r="1.55" fill="#1c1c96"/>
<circle cx="383.40" cy="576.36" r="1.55" fill="#1c1c96"/>
<circle cx="363.24" cy="582.36" r="1.55" fill="#1c1c96"/>
<circle cx="369.00" cy="580.44" r="1.55" fill="#1c1c96"/>
<circle cx="371.64" cy="580.44" r="1.55" fill="#1c1c96"/>
<circle cx="374.64" cy="581.40" r="1.55" fill="#1c1c96"/>
<circle cx="377.40" cy="581.64" r="1.55" fill="#1c1c96"/>
<circle cx="380.40" cy="582.00" r="1.55" fill="#1c1c96"/>
<circle cx="383.40" cy="582.00" r="1.55" fill="#1c1c96"/>
<circle cx="386.40" cy="582.36" r="1.55" fill="#1c1c96"/>
<circle cx="369.00" cy="584.04" r="1.55" fill="#1c1c96"/>
<circle cx="371.64" cy="584.40" r="1.55" fill="#1c1c96"/>
<circle cx="374.64" cy="584.40" r="1.55" fill="#1c1c96"/>
<circle cx="366.00" cy="586.44" r="1.55" fill="#1c1c96"/>
<circle cx="371.64" cy="586.80" r="1.55" fill="#1c1c96"/>
<circle cx="385.80" cy="586.80" r="1.55" fill="#1c1c96"/>
<circle cx="388.80" cy="586.80" r="1.55" fill="#1c1c96"/>
<circle cx="357.00" cy="588.36" r="1.55" fill="#1c1c96"/>
<circle cx="360.24" cy="588.84" r="1.55" fill="#1c1c96"/>
<circle cx="363.00" cy="589.20" r="1.55" fill="#1c1c96"/>
<circle cx="354.60" cy="590.76" r="1.55" fill="#1c1c96"/>
<circle cx="357.00" cy="590.40" r="1.55" fill="#1c1c96"/>
<circle cx="366.00" cy="591.00" r="1.55" fill="#1c1c96"/>
<circle cx="369.00" cy="590.40" r="1.55" fill="#1c1c96"/>
<circle cx="371.64" cy="590.76" r="1.55" fill="#1c1c96"/>
<circle cx="374.64" cy="590.40" r="1.55" fill="#1c1c96"/>
<circle cx="377.40" cy="590.40" r="1.55" fill="#1c1c96"/>
<circle cx="380.40" cy="590.40" r="1.55" fill="#1c1c96"/>
<circle cx="383.40" cy="590.40" r="1.55" fill="#1c1c96"/>
<circle cx="386.40" cy="590.40" r="1.55" fill="#1c1c96"/>
<circle cx="389.40" cy="590.40" r="1.55" fill="#1c1c96"/>
<circle cx="392.40" cy="590.40" r="1.55" fill="#1c1c96"/>
<circle cx="394.80" cy="590.40" r="1.55" fill="#1c1c96"/>
<circle cx="438.7" cy="472.7" r="1.6" fill="#a82222"/>
<circle cx="438.69" cy="489.93" r="1.55" fill="#a82222"/>
<circle cx="432.76" cy="495.59" r="1.55" fill="#a82222"/>
<circle cx="438.69" cy="497.66" r="1.55" fill="#a82222"/>
<circle cx="444.76" cy="500.41" r="1.55" fill="#a82222"/>
<circle cx="438.69" cy="503.45" r="1.55" fill="#a82222"/>
<circle cx="438.69" cy="507.31" r="1.55" fill="#a82222"/>
<circle cx="432.76" cy="513.10" r="1.55" fill="#a82222"/>
<circle cx="444.76" cy="511.03" r="1.55" fill="#a82222"/>
<circle cx="444.76" cy="513.10" r="1.55" fill="#a82222"/>
<circle cx="438.69" cy="516.55" r="1.55" fill="#a82222"/>
<circle cx="444.76" cy="518.90" r="1.55" fill="#a82222"/>
<circle cx="438.69" cy="520.00" r="1.55" fill="#a82222"/>
<circle cx="438.69" cy="525.24" r="1.55" fill="#a82222"/>
<circle cx="432.76" cy="529.24" r="1.55" fill="#a82222"/>
<circle cx="438.69" cy="529.66" r="1.55" fill="#a82222"/>
<circle cx="444.76" cy="530.62" r="1.55" fill="#a82222"/>
<circle cx="438.69" cy="532.69" r="1.55" fill="#a82222"/>
<circle cx="432.76" cy="536.14" r="1.55" fill="#a82222"/>
<circle cx="432.76" cy="539.59" r="1.55" fill="#a82222"/>
<circle cx="438.69" cy="539.03" r="1.55" fill="#a82222"/>
<circle cx="420.76" cy="544.41" r="1.55" fill="#a82222"/>
<circle cx="420.76" cy="548.28" r="1.55" fill="#a82222"/>
<circle cx="426.83" cy="547.31" r="1.55" fill="#a82222"/>
<circle cx="432.76" cy="546.21" r="1.55" fill="#a82222"/>
<circle cx="432.76" cy="548.97" r="1.55" fill="#a82222"/>
<circle cx="438.69" cy="547.59" r="1.55" fill="#a82222"/>
<circle cx="444.76" cy="546.90" r="1.55" fill="#a82222"/>
<circle cx="450.69" cy="549.66" r="1.55" fill="#a82222"/>
<circle cx="456.90" cy="547.31" r="1.55" fill="#a82222"/>
<circle cx="426.83" cy="551.03" r="1.55" fill="#a82222"/>
<circle cx="426.83" cy="554.48" r="1.55" fill="#a82222"/>
<circle cx="432.76" cy="555.17" r="1.55" fill="#a82222"/>
<circle cx="438.69" cy="552.00" r="1.55" fill="#a82222"/>
<circle cx="444.76" cy="554.48" r="1.55" fill="#a82222"/>
<circle cx="450.69" cy="554.48" r="1.55" fill="#a82222"/>
<circle cx="432.76" cy="558.62" r="1.55" fill="#a82222"/>
<circle cx="438.69" cy="558.34" r="1.55" fill="#a82222"/>
<circle cx="438.69" cy="562.07" r="1.55" fill="#a82222"/>
<circle cx="444.76" cy="559.03" r="1.55" fill="#a82222"/>
<circle cx="432.76" cy="565.52" r="1.55" fill="#a82222"/>
<circle cx="438.69" cy="567.31" r="1.55" fill="#a82222"/>
<circle cx="450.69" cy="568.28" r="1.55" fill="#a82222"/>
<circle cx="426.83" cy="569.38" r="1.55" fill="#a82222"/>
<circle cx="432.76" cy="569.38" r="1.55" fill="#a82222"/>
<circle cx="432.76" cy="572.69" r="1.55" fill="#a82222"/>
<circle cx="438.69" cy="571.72" r="1.55" fill="#a82222"/>
<circle cx="444.76" cy="571.72" r="1.55" fill="#a82222"/>
<circle cx="438.69" cy="575.86" r="1.55" fill="#a82222"/>
<circle cx="438.69" cy="579.31" r="1.55" fill="#a82222"/>
<circle cx="450.69" cy="579.03" r="1.55" fill="#a82222"/>
<circle cx="450.69" cy="582.07" r="1.55" fill="#a82222"/>
<circle cx="426.83" cy="581.38" r="1.55" fill="#a82222"/>
<circle cx="426.83" cy="584.83" r="1.55" fill="#a82222"/>
<circle cx="432.76" cy="582.07" r="1.55" fill="#a82222"/>
<circle cx="432.76" cy="586.48" r="1.55" fill="#a82222"/>
<circle cx="438.69" cy="583.17" r="1.55" fill="#a82222"/>
<circle cx="438.69" cy="586.48" r="1.55" fill="#a82222"/>
<circle cx="444.76" cy="586.48" r="1.55" fill="#a82222"/>
<circle cx="426.83" cy="588.69" r="1.55" fill="#a82222"/>
<circle cx="450.69" cy="589.24" r="1.55" fill="#a82222"/>
<circle cx="456.90" cy="585.93" r="1.55" fill="#a82222"/>
<text transform="translate(483.50 436.30) scale(0.787 1)" font-size="21.66" fill="#231815" stroke="#231815" stroke-width="0.35" stroke-linejoin="round">H</text>
<text x="608.80" y="441.40" font-size="9.4" text-anchor="middle" textLength="84.8" lengthAdjust="spacingAndGlyphs" stroke="#111" stroke-width="0.22">ULBP2 (221291_at)</text>
<path d="M523.70,456.30 H524.92 V458.41 H526.14 V460.51 H527.36 V462.62 H528.84 V468.93 H530.32 V475.25 H531.74 V480.30 H533.15 V485.35 H534.57 V490.40 H535.81 V493.72 H537.04 V497.03 H538.28 V500.35 H539.51 V503.66 H540.78 V505.94 H542.04 V508.21 H543.31 V510.48 H544.57 V512.76 H545.84 V515.03 H547.04 V517.05 H548.25 V519.07 H549.45 V521.09 H550.66 V523.11 H551.86 V525.13 H553.09 V526.27 H554.31 V527.41 H555.54 V528.54 H556.77 V529.68 H557.99 V530.82 H559.21 V531.45 H560.42 V532.08 H561.64 V532.71 H562.85 V533.34 H564.07 V533.97 H565.28 V534.61 H566.50 V535.24 H567.71 V535.87 H568.93 V536.50 H570.15 V537.13 H571.39 V537.32 H572.64 V537.51 H573.88 V537.70 H575.13 V537.89 H576.37 V538.08 H577.62 V538.27 H578.86 V538.46 H580.11 V538.65 H581.35 V538.84 H582.60 V539.03 H583.82 V539.28 H585.05 V539.53 H586.27 V539.78 H587.50 V540.04 H588.72 V540.29 H589.95 V540.54 H591.17 V540.79 H592.40 V541.05 H593.63 V541.30 H594.85 V541.55 H596.09 V541.74 H597.32 V541.93 H598.56 V542.12 H599.79 V542.31 H601.03 V542.50 H602.26 V542.69 H603.50 V542.88 H604.73 V543.07 H605.97 V543.26 H607.20 V543.45 H608.44 V543.70 H609.67 V543.95 H610.91 V544.20 H612.14 V544.46 H613.38 V544.71 H614.61 V544.96 H615.85 V545.22 H617.08 V545.47 H618.32 V545.72 H619.56 V545.97 H620.74 V546.29 H621.93 V546.60 H623.11 V546.92 H624.30 V547.24 H625.48 V547.55 H626.67 V547.87 H627.86 V548.18 H629.04 V548.50 H630.23 V548.81 H631.41 V549.13 H632.67 V549.45 H633.92 V549.76 H635.18 V550.08 H636.43 V550.39 H637.69 V550.71 H638.94 V551.02 H640.20 V551.34 H641.45 V551.66 H642.71 V551.97 H643.96 V552.29 H644.26 V557.97 H645.47 V557.97 H646.68 V557.97 H647.88 V557.97 H649.09 V557.97 H650.30 V557.97 H651.51 V557.97 H652.72 V557.97 H653.92 V557.97 H655.13 V557.97 H656.34 V557.97 H657.55 V557.97 H658.75 V557.97 H659.96 V557.97 H661.17 V557.97 H662.38 V557.97 H663.59 V557.97 H664.79 V557.97 H666.00 V557.97" fill="none" stroke="#f42020" stroke-width="1.35"/>
<line x1="524.92" y1="456.31" x2="524.92" y2="460.51" stroke="#f42020" stroke-width="0.9"/>
<line x1="527.36" y1="460.51" x2="527.36" y2="464.72" stroke="#f42020" stroke-width="0.9"/>
<line x1="530.32" y1="473.14" x2="530.32" y2="477.35" stroke="#f42020" stroke-width="0.9"/>
<line x1="535.81" y1="491.62" x2="535.81" y2="495.82" stroke="#f42020" stroke-width="0.9"/>
<line x1="540.78" y1="503.84" x2="540.78" y2="508.04" stroke="#f42020" stroke-width="0.9"/>
<line x1="543.31" y1="508.38" x2="543.31" y2="512.58" stroke="#f42020" stroke-width="0.9"/>
<line x1="548.25" y1="516.97" x2="548.25" y2="521.17" stroke="#f42020" stroke-width="0.9"/>
<line x1="553.09" y1="524.17" x2="553.09" y2="528.37" stroke="#f42020" stroke-width="0.9"/>
<line x1="555.54" y1="526.44" x2="555.54" y2="530.64" stroke="#f42020" stroke-width="0.9"/>
<line x1="557.99" y1="528.72" x2="557.99" y2="532.92" stroke="#f42020" stroke-width="0.9"/>
<line x1="560.42" y1="529.98" x2="560.42" y2="534.18" stroke="#f42020" stroke-width="0.9"/>
<line x1="562.85" y1="531.24" x2="562.85" y2="535.44" stroke="#f42020" stroke-width="0.9"/>
<line x1="565.28" y1="532.51" x2="565.28" y2="536.71" stroke="#f42020" stroke-width="0.9"/>
<line x1="567.71" y1="533.77" x2="567.71" y2="537.97" stroke="#f42020" stroke-width="0.9"/>
<line x1="570.15" y1="535.03" x2="570.15" y2="539.23" stroke="#f42020" stroke-width="0.9"/>
<line x1="575.13" y1="535.79" x2="575.13" y2="539.99" stroke="#f42020" stroke-width="0.9"/>
<line x1="577.62" y1="536.17" x2="577.62" y2="540.37" stroke="#f42020" stroke-width="0.9"/>
<line x1="580.11" y1="536.55" x2="580.11" y2="540.75" stroke="#f42020" stroke-width="0.9"/>
<line x1="582.60" y1="536.93" x2="582.60" y2="541.13" stroke="#f42020" stroke-width="0.9"/>
<line x1="585.05" y1="537.43" x2="585.05" y2="541.63" stroke="#f42020" stroke-width="0.9"/>
<line x1="587.50" y1="537.94" x2="587.50" y2="542.14" stroke="#f42020" stroke-width="0.9"/>
<line x1="589.95" y1="538.44" x2="589.95" y2="542.64" stroke="#f42020" stroke-width="0.9"/>
<line x1="594.85" y1="539.45" x2="594.85" y2="543.65" stroke="#f42020" stroke-width="0.9"/>
<line x1="597.32" y1="539.83" x2="597.32" y2="544.03" stroke="#f42020" stroke-width="0.9"/>
<line x1="604.73" y1="540.97" x2="604.73" y2="545.17" stroke="#f42020" stroke-width="0.9"/>
<line x1="609.67" y1="541.85" x2="609.67" y2="546.05" stroke="#f42020" stroke-width="0.9"/>
<line x1="612.14" y1="542.36" x2="612.14" y2="546.56" stroke="#f42020" stroke-width="0.9"/>
<line x1="614.61" y1="542.86" x2="614.61" y2="547.06" stroke="#f42020" stroke-width="0.9"/>
<line x1="619.56" y1="543.87" x2="619.56" y2="548.07" stroke="#f42020" stroke-width="0.9"/>
<line x1="626.67" y1="545.77" x2="626.67" y2="549.97" stroke="#f42020" stroke-width="0.9"/>
<line x1="629.04" y1="546.40" x2="629.04" y2="550.60" stroke="#f42020" stroke-width="0.9"/>
<line x1="631.41" y1="547.03" x2="631.41" y2="551.23" stroke="#f42020" stroke-width="0.9"/>
<line x1="633.92" y1="547.66" x2="633.92" y2="551.86" stroke="#f42020" stroke-width="0.9"/>
<line x1="636.43" y1="548.29" x2="636.43" y2="552.49" stroke="#f42020" stroke-width="0.9"/>
<line x1="638.94" y1="548.92" x2="638.94" y2="553.12" stroke="#f42020" stroke-width="0.9"/>
<line x1="641.45" y1="549.56" x2="641.45" y2="553.76" stroke="#f42020" stroke-width="0.9"/>
<line x1="643.96" y1="550.19" x2="643.96" y2="554.39" stroke="#f42020" stroke-width="0.9"/>
<line x1="645.47" y1="555.87" x2="645.47" y2="560.07" stroke="#f42020" stroke-width="0.9"/>
<line x1="647.88" y1="555.87" x2="647.88" y2="560.07" stroke="#f42020" stroke-width="0.9"/>
<line x1="650.30" y1="555.87" x2="650.30" y2="560.07" stroke="#f42020" stroke-width="0.9"/>
<line x1="655.13" y1="555.87" x2="655.13" y2="560.07" stroke="#f42020" stroke-width="0.9"/>
<line x1="657.55" y1="555.87" x2="657.55" y2="560.07" stroke="#f42020" stroke-width="0.9"/>
<line x1="659.96" y1="555.87" x2="659.96" y2="560.07" stroke="#f42020" stroke-width="0.9"/>
<line x1="662.38" y1="555.87" x2="662.38" y2="560.07" stroke="#f42020" stroke-width="0.9"/>
<line x1="664.79" y1="555.87" x2="664.79" y2="560.07" stroke="#f42020" stroke-width="0.9"/>
<path d="M523.70,456.30 H525.33 V458.19 H526.96 V460.09 H528.44 V465.77 H529.93 V471.46 H531.14 V474.82 H532.36 V478.19 H533.58 V481.56 H534.77 V483.33 H535.95 V485.10 H537.14 V486.86 H538.33 V488.63 H539.51 V490.40 H540.82 V493.05 H542.12 V495.71 H543.42 V498.36 H544.73 V501.01 H546.03 V503.66 H547.26 V505.43 H548.48 V507.20 H549.71 V508.97 H550.93 V510.74 H552.16 V512.50 H553.39 V513.39 H554.61 V514.27 H555.84 V515.16 H557.06 V516.04 H558.29 V516.92 H559.53 V517.65 H560.77 V518.37 H562.01 V519.09 H563.26 V519.81 H564.50 V520.53 H565.74 V521.25 H566.98 V521.98 H568.22 V522.29 H569.45 V522.61 H570.69 V522.92 H571.92 V523.24 H573.16 V523.55 H574.39 V523.87 H575.63 V524.19 H576.87 V524.50 H578.07 V524.75 H579.28 V525.01 H580.48 V525.26 H581.69 V525.51 H582.89 V525.76 H584.10 V526.02 H585.30 V526.27 H586.51 V526.52 H587.72 V526.78 H588.92 V527.03 H590.18 V527.34 H591.43 V527.66 H592.69 V527.98 H593.94 V528.29 H595.20 V528.61 H596.45 V528.92 H597.71 V529.24 H598.96 V529.55 H600.22 V529.87 H601.47 V530.19 H602.69 V530.31 H603.90 V530.44 H605.12 V530.56 H606.33 V530.69 H607.55 V530.82 H608.76 V530.94 H609.98 V531.07 H611.20 V531.20 H612.41 V531.32 H613.63 V531.45 H614.93 V531.55 H616.23 V531.66 H617.53 V531.76 H618.83 V531.87 H620.13 V531.97 H621.43 V532.08 H623.51 V535.24 H624.71 V535.24 H625.91 V535.24 H627.11 V535.24 H628.31 V535.24 H629.51 V535.24 H630.71 V535.24 H631.91 V535.24 H633.11 V535.24 H634.31 V535.24 H635.51 V535.24 H636.71 V535.24 H637.91 V535.24 H639.11 V535.24 H640.31 V535.24 H641.51 V535.24 H642.71 V535.24 H643.91 V535.24 H645.11 V535.24 H646.31 V535.24 H647.51 V535.24 H648.71 V535.24 H649.91 V535.24 H651.11 V535.24 H652.31 V535.24 H653.51 V535.24 H654.71 V535.24 H655.91 V535.24 H657.11 V535.24 H658.31 V535.24 H659.51 V535.24 H660.71 V535.24 H661.91 V535.24 H663.11 V535.24 H664.31 V535.24 H665.51 V535.24 H666.71 V535.24 H667.91 V535.24 H669.11 V535.24 H670.31 V535.24 H671.51 V535.24 H672.71 V535.24 H673.91 V535.24" fill="none" stroke="#000" stroke-width="1.35"/>
<line x1="528.44" y1="463.67" x2="528.44" y2="467.87" stroke="#000" stroke-width="0.9"/>
<line x1="531.14" y1="472.72" x2="531.14" y2="476.92" stroke="#000" stroke-width="0.9"/>
<line x1="535.95" y1="483.00" x2="535.95" y2="487.20" stroke="#000" stroke-width="0.9"/>
<line x1="538.33" y1="486.53" x2="538.33" y2="490.73" stroke="#000" stroke-width="0.9"/>
<line x1="540.82" y1="490.95" x2="540.82" y2="495.15" stroke="#000" stroke-width="0.9"/>
<line x1="543.42" y1="496.26" x2="543.42" y2="500.46" stroke="#000" stroke-width="0.9"/>
<line x1="546.03" y1="501.56" x2="546.03" y2="505.76" stroke="#000" stroke-width="0.9"/>
<line x1="548.48" y1="505.10" x2="548.48" y2="509.30" stroke="#000" stroke-width="0.9"/>
<line x1="550.93" y1="508.64" x2="550.93" y2="512.84" stroke="#000" stroke-width="0.9"/>
<line x1="555.84" y1="513.06" x2="555.84" y2="517.26" stroke="#000" stroke-width="0.9"/>
<line x1="558.29" y1="514.82" x2="558.29" y2="519.02" stroke="#000" stroke-width="0.9"/>
<line x1="565.74" y1="519.15" x2="565.74" y2="523.35" stroke="#000" stroke-width="0.9"/>
<line x1="568.22" y1="520.19" x2="568.22" y2="524.39" stroke="#000" stroke-width="0.9"/>
<line x1="570.69" y1="520.82" x2="570.69" y2="525.02" stroke="#000" stroke-width="0.9"/>
<line x1="573.16" y1="521.45" x2="573.16" y2="525.65" stroke="#000" stroke-width="0.9"/>
<line x1="575.63" y1="522.09" x2="575.63" y2="526.29" stroke="#000" stroke-width="0.9"/>
<line x1="578.07" y1="522.65" x2="578.07" y2="526.85" stroke="#000" stroke-width="0.9"/>
<line x1="580.48" y1="523.16" x2="580.48" y2="527.36" stroke="#000" stroke-width="0.9"/>
<line x1="585.30" y1="524.17" x2="585.30" y2="528.37" stroke="#000" stroke-width="0.9"/>
<line x1="590.18" y1="525.24" x2="590.18" y2="529.44" stroke="#000" stroke-width="0.9"/>
<line x1="592.69" y1="525.88" x2="592.69" y2="530.08" stroke="#000" stroke-width="0.9"/>
<line x1="595.20" y1="526.51" x2="595.20" y2="530.71" stroke="#000" stroke-width="0.9"/>
<line x1="600.22" y1="527.77" x2="600.22" y2="531.97" stroke="#000" stroke-width="0.9"/>
<line x1="605.12" y1="528.46" x2="605.12" y2="532.66" stroke="#000" stroke-width="0.9"/>
<line x1="607.55" y1="528.72" x2="607.55" y2="532.92" stroke="#000" stroke-width="0.9"/>
<line x1="609.98" y1="528.97" x2="609.98" y2="533.17" stroke="#000" stroke-width="0.9"/>
<line x1="612.41" y1="529.22" x2="612.41" y2="533.42" stroke="#000" stroke-width="0.9"/>
<line x1="614.93" y1="529.45" x2="614.93" y2="533.65" stroke="#000" stroke-width="0.9"/>
<line x1="617.53" y1="529.66" x2="617.53" y2="533.86" stroke="#000" stroke-width="0.9"/>
<line x1="620.13" y1="529.87" x2="620.13" y2="534.07" stroke="#000" stroke-width="0.9"/>
<line x1="625.91" y1="533.14" x2="625.91" y2="537.34" stroke="#000" stroke-width="0.9"/>
<line x1="628.31" y1="533.14" x2="628.31" y2="537.34" stroke="#000" stroke-width="0.9"/>
<line x1="633.11" y1="533.14" x2="633.11" y2="537.34" stroke="#000" stroke-width="0.9"/>
<line x1="635.51" y1="533.14" x2="635.51" y2="537.34" stroke="#000" stroke-width="0.9"/>
<line x1="637.91" y1="533.14" x2="637.91" y2="537.34" stroke="#000" stroke-width="0.9"/>
<line x1="640.31" y1="533.14" x2="640.31" y2="537.34" stroke="#000" stroke-width="0.9"/>
<line x1="645.11" y1="533.14" x2="645.11" y2="537.34" stroke="#000" stroke-width="0.9"/>
<line x1="647.51" y1="533.14" x2="647.51" y2="537.34" stroke="#000" stroke-width="0.9"/>
<line x1="649.91" y1="533.14" x2="649.91" y2="537.34" stroke="#000" stroke-width="0.9"/>
<line x1="654.71" y1="533.14" x2="654.71" y2="537.34" stroke="#000" stroke-width="0.9"/>
<line x1="657.11" y1="533.14" x2="657.11" y2="537.34" stroke="#000" stroke-width="0.9"/>
<line x1="661.91" y1="533.14" x2="661.91" y2="537.34" stroke="#000" stroke-width="0.9"/>
<line x1="664.31" y1="533.14" x2="664.31" y2="537.34" stroke="#000" stroke-width="0.9"/>
<line x1="669.11" y1="533.14" x2="669.11" y2="537.34" stroke="#000" stroke-width="0.9"/>
<line x1="671.51" y1="533.14" x2="671.51" y2="537.34" stroke="#000" stroke-width="0.9"/>
<line x1="673.91" y1="533.14" x2="673.91" y2="537.34" stroke="#000" stroke-width="0.9"/>
<rect x="517.3" y="451.5" width="163.30000000000007" height="135.60000000000002" fill="none" stroke="#000" stroke-width="1.1"/>
<line x1="514.10" y1="582.60" x2="517.30" y2="582.60" stroke="#000" stroke-width="0.9"/>
<text x="510.80" y="583.40" font-size="9.2" text-anchor="middle" font-weight="normal" textLength="12.0" lengthAdjust="spacingAndGlyphs" transform="rotate(-90 510.8 583.4)" stroke="#111" stroke-width="0.22">0.0</text>
<line x1="514.10" y1="557.34" x2="517.30" y2="557.34" stroke="#000" stroke-width="0.9"/>
<text x="510.80" y="558.14" font-size="9.2" text-anchor="middle" font-weight="normal" textLength="12.0" lengthAdjust="spacingAndGlyphs" transform="rotate(-90 510.8 558.14)" stroke="#111" stroke-width="0.22">0.2</text>
<line x1="514.10" y1="532.08" x2="517.30" y2="532.08" stroke="#000" stroke-width="0.9"/>
<text x="510.80" y="532.88" font-size="9.2" text-anchor="middle" font-weight="normal" textLength="12.0" lengthAdjust="spacingAndGlyphs" transform="rotate(-90 510.8 532.88)" stroke="#111" stroke-width="0.22">0.4</text>
<line x1="514.10" y1="506.82" x2="517.30" y2="506.82" stroke="#000" stroke-width="0.9"/>
<text x="510.80" y="507.62" font-size="9.2" text-anchor="middle" font-weight="normal" textLength="12.0" lengthAdjust="spacingAndGlyphs" transform="rotate(-90 510.8 507.62000000000006)" stroke="#111" stroke-width="0.22">0.6</text>
<line x1="514.10" y1="481.56" x2="517.30" y2="481.56" stroke="#000" stroke-width="0.9"/>
<text x="510.80" y="482.36" font-size="9.2" text-anchor="middle" font-weight="normal" textLength="12.0" lengthAdjust="spacingAndGlyphs" transform="rotate(-90 510.8 482.36)" stroke="#111" stroke-width="0.22">0.8</text>
<line x1="514.10" y1="456.30" x2="517.30" y2="456.30" stroke="#000" stroke-width="0.9"/>
<text x="510.80" y="457.10" font-size="9.2" text-anchor="middle" font-weight="normal" textLength="12.0" lengthAdjust="spacingAndGlyphs" transform="rotate(-90 510.8 457.1)" stroke="#111" stroke-width="0.22">1.0</text>
<line x1="523.70" y1="587.10" x2="523.70" y2="590.30" stroke="#000" stroke-width="0.9"/>
<text x="523.70" y="600.80" font-size="9.7" text-anchor="middle" stroke="#111" stroke-width="0.22">0</text>
<line x1="573.11" y1="587.10" x2="573.11" y2="590.30" stroke="#000" stroke-width="0.9"/>
<text x="573.11" y="600.80" font-size="9.7" text-anchor="middle" stroke="#111" stroke-width="0.22">50</text>
<line x1="622.52" y1="587.10" x2="622.52" y2="590.30" stroke="#000" stroke-width="0.9"/>
<text x="622.52" y="600.80" font-size="9.7" text-anchor="middle" stroke="#111" stroke-width="0.22">100</text>
<line x1="671.93" y1="587.10" x2="671.93" y2="590.30" stroke="#000" stroke-width="0.9"/>
<text x="671.93" y="600.80" font-size="9.7" text-anchor="middle" stroke="#111" stroke-width="0.22">150</text>
<text x="599.40" y="611.90" font-size="9.4" text-anchor="middle" textLength="65.2" lengthAdjust="spacingAndGlyphs" stroke="#111" stroke-width="0.22">Time (months)</text>
<text x="499.00" y="515.00" font-size="9.3" text-anchor="middle" textLength="47.9" lengthAdjust="spacingAndGlyphs" transform="rotate(-90 499.0 515.0)" stroke="#111" stroke-width="0.22">Probability</text>
<text x="676.60" y="462.00" font-size="9.2" text-anchor="end" textLength="98.5" lengthAdjust="spacingAndGlyphs" stroke="#111" stroke-width="0.22">HR = 1.35 (1.12 − 1.62)</text>
<text x="676.60" y="473.80" font-size="9.2" text-anchor="end" textLength="82.7" lengthAdjust="spacingAndGlyphs" stroke="#111" stroke-width="0.22">logrank P = 0.0016</text>
<text x="521.50" y="564.00" font-size="6.3" stroke="#111" stroke-width="0.12">Expression</text>
<line x1="523.80" y1="571.50" x2="537.80" y2="571.50" stroke="#333" stroke-width="1.1"/>
<line x1="523.80" y1="580.00" x2="537.80" y2="580.00" stroke="#f0201c" stroke-width="1.1"/>
<text x="541.30" y="573.60" font-size="6.0" stroke="#111" stroke-width="0.12">low (n = 289)</text>
<text x="541.30" y="582.10" font-size="6.0" stroke="#111" stroke-width="0.12">high(n = 586)</text>
<rect x="6.3" y="628.8" width="2.8" height="14.7" fill="#231815"/>
<text x="73.10" y="641.90" font-size="9.4" text-anchor="middle" stroke="#111" stroke-width="0.22">ULBP2</text>
<text x="167.00" y="641.90" font-size="9.4" text-anchor="middle" stroke="#111" stroke-width="0.22">Masson</text>
<text x="260.30" y="642.00" font-size="9.4" text-anchor="middle" textLength="46.9" lengthAdjust="spacingAndGlyphs" stroke="#111" stroke-width="0.22">Sirius Red</text>
<text x="22.60" y="693.30" font-size="9.4" text-anchor="middle" textLength="54" lengthAdjust="spacingAndGlyphs" transform="rotate(-90 22.6 693.3)" stroke="#111" stroke-width="0.22">High ULBP2</text>
<text x="22.60" y="786.50" font-size="9.4" text-anchor="middle" textLength="51.6" lengthAdjust="spacingAndGlyphs" transform="rotate(-90 22.6 786.5)" stroke="#111" stroke-width="0.22">Low ULBP2</text>
<g clip-path="url(#ci_u_hi)"><g filter="url(#tblur)">
<rect x="25.2" y="645.1" width="96.5" height="95.9" fill="#cac8d8"/>
<rect x="25.2" y="645.1" width="96.5" height="95.9" filter="url(#nz1)" opacity="0.5"/>
<g mask="url(#uzone)" opacity="0.82">
<rect x="25.2" y="645.1" width="96.5" height="95.9" fill="#b8a39a"/>
<rect x="25.2" y="645.1" width="96.5" height="95.9" filter="url(#nz2)" opacity="0.6"/>
<rect x="25.2" y="645.1" width="96.5" height="95.9" filter="url(#nz3)" opacity="0.5"/>
</g>
<rect x="25.2" y="645.1" width="96.5" height="95.9" filter="url(#nz4)" opacity="0.6"/>
<rect x="25.2" y="645.1" width="96.5" height="95.9" filter="url(#nz5)" opacity="0.4"/>
<g filter="url(#sb6)" fill="#f0f0f3">
<path d="M42,650 C46,647 56,647 60,650 C62,656 60,662 56,665 C50,666 45,663 42,657Z"/>
<path d="M61,674 C66,668 74,663 83,661 C84,663 80,666 74,670 C69,673 65,675 61,674Z"/>
<path d="M98,651 C102,648 110,647 115,648 L116,651 C111,653 104,654 98,651Z"/>
<path d="M98,690 C101,688 106,688 107,691 C105,694 101,694 98,690Z"/>
<path d="M100,724 C104,718 110,714 119,712 L119,716 C112,718 106,722 102,727Z"/>
<path d="M33,709 C35,707 39,708 41,711 C39,713 35,713 33,709Z"/>
<path d="M46,712 C50,710 57,711 63,713 C59,716 52,716 46,712Z"/>
<path d="M54,722 C55,720 58,722 58,726 C57,728 54,727 54,722Z"/>
</g>
</g></g>
<rect x="97.50" y="733.15" width="17.2" height="1.3" fill="#000"/>
<text x="106.10" y="731.20" font-size="5.6" text-anchor="middle" textLength="16.6" lengthAdjust="spacingAndGlyphs" stroke="#111" stroke-width="0.12">50 μm</text>
<g clip-path="url(#ci_m_hi)"><g filter="url(#tblur)">
<rect x="118.7" y="645.1" width="97.3" height="95.9" fill="#c47096"/>
<rect x="118.7" y="645.1" width="97.3" height="95.9" filter="url(#nz6)" opacity="0.7"/>
<rect x="118.7" y="645.1" width="97.3" height="95.9" filter="url(#nz7)" opacity="0.5"/>
<rect x="118.7" y="645.1" width="97.3" height="95.9" filter="url(#nz8)" opacity="0.85"/>
<g mask="url(#mzone)">
<rect x="118.7" y="645.1" width="97.3" height="95.9" fill="#7cb6de"/>
<rect x="118.7" y="645.1" width="97.3" height="95.9" filter="url(#nz9)" opacity="0.6"/>
<rect x="118.7" y="645.1" width="97.3" height="95.9" filter="url(#nz10)" opacity="0.8"/>
<rect x="118.7" y="645.1" width="97.3" height="95.9" filter="url(#nz11)" opacity="0.55"/>
</g>
<path d="M142.12,671.85 C142.68,672.94 145.15,676.31 145.48,678.39 C145.80,680.46 143.41,682.53 144.07,684.30 C144.73,686.06 148.49,687.47 149.43,688.97 C150.37,690.48 149.89,691.47 149.70,693.31 C149.51,695.16 148.34,698.05 148.30,700.06 C148.26,702.07 149.28,704.49 149.48,705.38" fill="none" stroke="#8cd4e0" stroke-width="0.50" opacity="0.75"/>
<path d="M131.90,652.20 C131.81,652.86 130.78,654.54 131.36,656.17 C131.94,657.81 134.98,660.14 135.39,662.03 C135.80,663.91 133.80,665.82 133.81,667.46 C133.82,669.10 134.84,670.27 135.46,671.88 C136.08,673.49 137.18,676.26 137.52,677.13" fill="none" stroke="#70b8dc" stroke-width="0.56" opacity="0.75"/>
<path d="M131.53,651.23 C131.51,652.21 131.23,655.29 131.39,657.13 C131.55,658.97 132.30,661.43 132.48,662.29" fill="none" stroke="#3a64b8" stroke-width="0.72" opacity="0.75"/>
<path d="M142.20,661.46 C142.62,662.51 144.39,665.87 144.73,667.78 C145.07,669.70 143.85,671.16 144.25,672.92 C144.66,674.69 146.52,676.64 147.17,678.37 C147.82,680.10 147.94,681.73 148.17,683.30 C148.41,684.86 148.23,685.97 148.60,687.76 C148.97,689.55 149.83,691.91 150.39,694.02 C150.95,696.14 151.45,698.51 151.98,700.48 C152.50,702.45 152.75,703.92 153.52,705.84 C154.29,707.76 156.49,709.31 156.57,711.98 C156.66,714.65 154.46,720.21 154.03,721.86" fill="none" stroke="#70b8dc" stroke-width="1.01" opacity="0.75"/>
<path d="M143.64,667.48 C143.70,668.30 143.23,670.48 144.02,672.39 C144.81,674.30 147.54,677.07 148.39,678.96 C149.24,680.85 148.77,682.22 149.12,683.72 C149.47,685.21 150.36,686.39 150.50,687.95 C150.64,689.50 149.31,690.96 149.97,693.04 C150.63,695.11 153.52,698.40 154.47,700.40 C155.42,702.40 155.48,704.27 155.68,705.04" fill="none" stroke="#70b8dc" stroke-width="0.53" opacity="0.75"/>
<path d="M144.93,645.26 C145.30,646.22 147.16,649.12 147.17,651.02 C147.18,652.91 145.13,654.66 144.99,656.61 C144.84,658.56 145.27,661.08 146.29,662.71 C147.31,664.34 150.36,664.90 151.09,666.39 C151.82,667.89 150.72,670.81 150.65,671.70" fill="none" stroke="#70b8dc" stroke-width="0.57" opacity="0.75"/>
<path d="M145.55,662.51 C145.66,663.46 145.75,666.59 146.18,668.19 C146.61,669.80 147.65,670.60 148.14,672.15 C148.62,673.70 148.51,675.54 149.10,677.50 C149.69,679.47 150.89,682.18 151.68,683.94 C152.47,685.70 153.56,686.48 153.83,688.07 C154.11,689.65 153.42,692.54 153.34,693.44" fill="none" stroke="#4f8fd8" stroke-width="1.00" opacity="0.75"/>
<path d="M138.29,656.31 C138.64,657.18 140.00,659.66 140.44,661.56 C140.87,663.45 140.80,665.89 140.88,667.69 C140.96,669.49 140.44,670.64 140.91,672.38 C141.38,674.11 143.25,677.17 143.72,678.13" fill="none" stroke="#70b8dc" stroke-width="0.51" opacity="0.75"/>
<path d="M136.98,651.02 C137.48,651.97 139.34,654.79 140.01,656.71 C140.68,658.62 140.77,660.64 141.01,662.51 C141.25,664.38 140.82,666.36 141.46,667.92 C142.10,669.47 144.04,670.09 144.85,671.84 C145.65,673.60 146.05,677.34 146.29,678.44" fill="none" stroke="#8cd4e0" stroke-width="1.09" opacity="0.75"/>
<path d="M148.73,656.36 C148.43,657.28 146.73,659.96 146.97,661.88 C147.21,663.80 149.46,666.23 150.17,667.87 C150.89,669.51 150.64,670.18 151.25,671.72 C151.87,673.27 153.17,675.30 153.87,677.13 C154.58,678.95 155.26,680.66 155.50,682.68 C155.74,684.70 155.20,687.47 155.31,689.24 C155.43,691.01 155.63,691.43 156.20,693.30 C156.77,695.16 157.90,698.27 158.70,700.45 C159.50,702.63 160.38,704.46 161.00,706.38 C161.62,708.30 162.35,709.69 162.42,711.99 C162.49,714.28 162.25,717.16 161.43,720.17 C160.62,723.18 158.16,726.92 157.52,730.05 C156.89,733.19 157.62,737.51 157.64,739.00" fill="none" stroke="#3a64b8" stroke-width="0.88" opacity="0.75"/>
<path d="M137.94,651.10 C138.52,652.16 141.04,655.53 141.41,657.47 C141.79,659.40 139.67,661.05 140.20,662.70 C140.72,664.35 143.88,665.82 144.57,667.38 C145.26,668.94 144.17,670.30 144.32,672.07 C144.48,673.84 144.99,676.29 145.51,678.01 C146.03,679.73 146.61,680.61 147.45,682.39 C148.30,684.17 150.05,687.65 150.58,688.70" fill="none" stroke="#8cd4e0" stroke-width="1.04" opacity="0.75"/>
<path d="M143.74,651.17 C143.91,652.01 143.92,654.22 144.76,656.19 C145.60,658.15 148.33,661.21 148.78,662.95 C149.23,664.70 147.46,665.10 147.45,666.64 C147.43,668.19 147.78,670.43 148.69,672.23 C149.59,674.04 152.04,675.64 152.87,677.49 C153.69,679.34 153.17,681.35 153.63,683.33 C154.09,685.31 154.99,687.52 155.63,689.37 C156.27,691.22 156.94,692.54 157.47,694.44 C157.99,696.33 158.84,698.79 158.78,700.76 C158.71,702.73 157.35,705.35 157.06,706.27" fill="none" stroke="#3a64b8" stroke-width="0.85" opacity="0.75"/>
<path d="M131.91,650.70 C132.30,651.82 133.92,655.47 134.26,657.45 C134.61,659.42 133.79,661.04 133.96,662.56 C134.13,664.07 134.39,664.96 135.29,666.53 C136.20,668.09 139.03,670.06 139.41,671.93 C139.78,673.81 137.34,675.73 137.54,677.78 C137.73,679.82 139.73,682.33 140.59,684.22 C141.45,686.10 142.29,687.40 142.69,689.08 C143.09,690.75 142.37,692.57 142.99,694.26 C143.60,695.94 145.80,697.28 146.38,699.19 C146.96,701.10 146.11,703.63 146.46,705.72 C146.81,707.80 148.38,709.13 148.47,711.72 C148.56,714.32 147.65,718.06 147.00,721.27 C146.35,724.48 145.03,728.04 144.56,731.00 C144.09,733.95 144.25,737.67 144.18,739.00" fill="none" stroke="#3f76c8" stroke-width="0.79" opacity="0.75"/>
<path d="M130.81,655.90 C131.02,656.80 131.57,659.35 132.08,661.32 C132.59,663.28 133.14,665.91 133.85,667.68 C134.57,669.45 135.95,671.23 136.37,671.94" fill="none" stroke="#a0e0e0" stroke-width="1.01" opacity="0.75"/>
<path d="M144.62,650.72 C144.85,651.65 145.44,654.54 146.02,656.35 C146.59,658.16 147.93,659.65 148.06,661.56 C148.19,663.47 146.77,665.82 146.81,667.82 C146.85,669.82 147.86,671.89 148.32,673.53 C148.77,675.17 148.79,676.07 149.54,677.66 C150.30,679.25 152.08,681.34 152.83,683.07 C153.59,684.80 153.74,686.31 154.07,688.03 C154.40,689.75 154.15,691.44 154.84,693.37 C155.53,695.30 157.94,697.37 158.20,699.60 C158.46,701.84 155.95,704.58 156.41,706.78 C156.88,708.98 161.01,710.51 160.97,712.81 C160.94,715.10 157.00,719.26 156.21,720.55" fill="none" stroke="#8cd4e0" stroke-width="0.84" opacity="0.75"/>
<path d="M139.62,662.23 C140.32,663.00 143.12,665.26 143.82,666.85 C144.51,668.44 143.72,669.95 143.80,671.77 C143.88,673.59 144.01,675.91 144.31,677.75 C144.61,679.60 145.38,681.99 145.59,682.84" fill="none" stroke="#a0e0e0" stroke-width="0.80" opacity="0.75"/>
<path d="M146.31,672.26 C146.07,673.13 144.78,675.76 144.83,677.49 C144.89,679.22 145.57,680.82 146.62,682.65 C147.67,684.47 150.01,686.47 151.13,688.45 C152.26,690.42 153.39,692.41 153.37,694.50 C153.34,696.59 150.61,699.20 150.98,700.98 C151.34,702.75 154.65,703.33 155.56,705.15 C156.46,706.96 156.71,709.06 156.40,711.86 C156.09,714.66 154.46,718.92 153.69,721.95 C152.91,724.98 152.08,728.70 151.75,730.05" fill="none" stroke="#4f8fd8" stroke-width="1.09" opacity="0.75"/>
<path d="M143.90,651.24 C143.84,652.00 143.17,654.10 143.55,655.77 C143.93,657.44 145.58,659.27 146.18,661.25 C146.78,663.23 146.78,665.85 147.17,667.67 C147.57,669.49 148.02,670.50 148.56,672.19 C149.09,673.89 150.09,676.90 150.40,677.84" fill="none" stroke="#4f8fd8" stroke-width="0.80" opacity="0.75"/>
<path d="M143.89,667.84 C144.54,668.54 147.35,670.14 147.77,671.99 C148.18,673.84 146.17,677.12 146.39,678.96 C146.60,680.81 148.43,681.43 149.05,683.04 C149.67,684.66 149.81,686.71 150.13,688.66 C150.46,690.61 150.23,692.87 150.98,694.74 C151.73,696.61 153.86,697.91 154.66,699.89 C155.45,701.88 155.56,705.55 155.74,706.68" fill="none" stroke="#62a8dc" stroke-width="0.83" opacity="0.75"/>
<path d="M143.27,662.13 C143.76,663.06 145.62,665.86 146.21,667.70 C146.80,669.55 146.63,671.60 146.80,673.22 C146.97,674.84 146.50,675.88 147.24,677.43 C147.98,678.97 150.55,680.55 151.25,682.50 C151.96,684.45 150.91,687.27 151.49,689.12 C152.06,690.96 154.38,691.80 154.71,693.57 C155.05,695.33 153.15,697.69 153.51,699.72 C153.86,701.74 156.53,703.62 156.84,705.73 C157.16,707.85 155.51,709.73 155.41,712.42 C155.30,715.10 156.08,720.27 156.21,721.84" fill="none" stroke="#a0e0e0" stroke-width="1.10" opacity="0.75"/>
<path d="M137.34,657.32 C137.52,658.16 137.65,660.59 138.43,662.35 C139.21,664.12 141.08,666.25 142.00,667.93 C142.93,669.60 143.63,671.66 143.95,672.40" fill="none" stroke="#62a8dc" stroke-width="0.94" opacity="0.75"/>
<path d="M141.72,646.27 C141.99,647.19 142.47,650.18 143.29,651.82 C144.11,653.47 146.15,654.37 146.65,656.16 C147.14,657.94 145.91,660.58 146.27,662.53 C146.63,664.48 148.24,666.23 148.80,667.86 C149.37,669.50 148.89,670.60 149.63,672.34 C150.37,674.09 152.69,676.50 153.26,678.34 C153.82,680.19 152.64,681.62 153.03,683.41 C153.42,685.20 155.17,688.14 155.60,689.08" fill="none" stroke="#8cd4e0" stroke-width="1.05" opacity="0.75"/>
<path d="M138.81,671.98 C139.45,673.12 141.81,677.09 142.61,678.82 C143.41,680.56 143.35,680.63 143.61,682.37 C143.87,684.11 143.93,687.43 144.19,689.27 C144.45,691.11 144.82,691.58 145.18,693.40 C145.55,695.21 145.84,698.09 146.37,700.18 C146.89,702.27 147.90,703.99 148.33,705.94 C148.76,707.90 148.77,709.41 148.97,711.88 C149.16,714.36 149.57,717.64 149.51,720.80 C149.44,723.97 149.17,727.84 148.57,730.87 C147.98,733.91 146.37,737.65 145.93,739.00" fill="none" stroke="#a0e0e0" stroke-width="0.83" opacity="0.75"/>
<path d="M150.51,673.62 C150.73,674.44 151.34,677.08 151.83,678.55 C152.33,680.02 152.83,680.63 153.47,682.45 C154.11,684.27 155.07,687.39 155.68,689.45 C156.30,691.51 157.02,693.14 157.15,694.81 C157.28,696.48 156.42,697.50 156.45,699.49 C156.49,701.48 157.19,705.54 157.34,706.75" fill="none" stroke="#3a64b8" stroke-width="0.82" opacity="0.75"/>
<path d="M137.95,673.58 C138.25,674.43 139.37,676.99 139.76,678.71 C140.15,680.44 139.85,682.11 140.29,683.91 C140.73,685.71 142.06,688.57 142.41,689.50" fill="none" stroke="#62a8dc" stroke-width="0.54" opacity="0.75"/>
<path d="M136.37,673.21 C137.09,674.12 139.77,676.87 140.67,678.69 C141.58,680.51 141.71,682.43 141.79,684.14 C141.88,685.84 140.49,687.20 141.19,688.92 C141.89,690.65 145.02,692.57 146.00,694.50 C146.98,696.43 146.99,698.73 147.07,700.51 C147.14,702.29 146.65,703.30 146.47,705.17 C146.29,707.05 146.08,710.66 146.00,711.75" fill="none" stroke="#8cd4e0" stroke-width="1.00" opacity="0.75"/>
<path d="M121.26,676.42 C121.27,675.98 120.50,674.51 121.27,673.80 C122.05,673.10 125.13,672.46 125.90,672.19" fill="none" stroke="#62a8dc" stroke-width="1.05" opacity="0.75"/>
<path d="M124.11,673.66 C124.46,673.22 125.53,671.46 126.21,671.03 C126.89,670.60 127.12,671.25 128.16,671.07 C129.21,670.88 131.76,670.42 132.49,669.91 C133.22,669.40 132.55,668.32 132.56,668.00" fill="none" stroke="#3a64b8" stroke-width="0.51" opacity="0.75"/>
<path d="M120.41,675.76 C121.01,675.56 122.88,675.17 124.02,674.58 C125.17,673.99 126.85,672.79 127.29,672.22 C127.72,671.66 126.73,671.37 126.62,671.20" fill="none" stroke="#3a64b8" stroke-width="0.93" opacity="0.75"/>
<path d="M127.26,675.39 C127.67,675.20 129.46,674.96 129.70,674.25 C129.94,673.55 128.51,671.74 128.71,671.17 C128.91,670.59 129.90,671.18 130.90,670.82 C131.90,670.46 134.07,669.30 134.71,668.99" fill="none" stroke="#8cd4e0" stroke-width="1.03" opacity="0.75"/>
<path d="M121.63,677.48 C121.86,677.25 122.77,676.53 122.99,676.09 C123.21,675.65 122.57,675.43 122.97,674.83 C123.37,674.23 124.17,673.24 125.39,672.49 C126.61,671.74 129.48,670.70 130.30,670.34" fill="none" stroke="#70b8dc" stroke-width="1.04" opacity="0.75"/>
<path d="M121.75,673.06 C122.15,673.05 122.92,673.32 124.17,672.97 C125.41,672.63 128.45,671.53 129.20,670.98 C129.95,670.43 128.76,669.89 128.68,669.68" fill="none" stroke="#3a64b8" stroke-width="0.86" opacity="0.75"/>
<path d="M131.13,722.04 C131.74,722.39 133.60,723.43 134.82,724.14 C136.04,724.84 137.47,725.58 138.43,726.28 C139.39,726.98 139.60,727.29 140.58,728.34 C141.57,729.39 142.86,731.43 144.34,732.59 C145.83,733.74 148.15,734.20 149.50,735.27 C150.85,736.34 151.94,738.38 152.43,739.00" fill="none" stroke="#70b8dc" stroke-width="0.84" opacity="0.75"/>
<path d="M127.02,725.32 C127.13,724.64 126.50,721.51 127.73,721.23 C128.95,720.95 132.96,722.89 134.34,723.66 C135.72,724.43 135.50,724.98 136.01,725.84 C136.51,726.70 137.13,728.32 137.35,728.81" fill="none" stroke="#3a64b8" stroke-width="1.03" opacity="0.75"/>
<path d="M129.59,722.09 C129.98,722.56 130.82,724.06 131.92,724.88 C133.01,725.70 134.98,726.35 136.14,727.00 C137.30,727.64 138.11,727.95 138.88,728.74 C139.65,729.54 139.76,730.77 140.76,731.76 C141.76,732.75 143.68,733.45 144.88,734.66 C146.08,735.87 147.44,738.28 147.95,739.00" fill="none" stroke="#3f76c8" stroke-width="1.04" opacity="0.75"/>
<path d="M125.99,721.65 C126.38,722.17 126.92,724.10 128.37,724.79 C129.83,725.48 133.41,725.23 134.72,725.79 C136.02,726.36 135.96,727.77 136.21,728.17" fill="none" stroke="#a0e0e0" stroke-width="1.09" opacity="0.75"/>
<path d="M125.56,725.34 C126.17,724.78 128.16,722.04 129.20,721.94 C130.24,721.85 130.26,724.18 131.80,724.76 C133.34,725.34 137.01,724.97 138.43,725.40 C139.85,725.84 140.00,727.05 140.31,727.38" fill="none" stroke="#a0e0e0" stroke-width="0.75" opacity="0.75"/>
<path d="M128.15,727.16 C128.24,726.87 128.15,726.19 128.71,725.39 C129.27,724.59 130.39,722.54 131.51,722.38 C132.64,722.22 134.08,723.91 135.44,724.44 C136.81,724.98 138.59,724.90 139.70,725.59 C140.82,726.29 141.00,727.72 142.13,728.61 C143.25,729.49 145.19,729.62 146.46,730.90 C147.74,732.18 149.21,735.39 149.76,736.29" fill="none" stroke="#4f8fd8" stroke-width="0.67" opacity="0.75"/>
<path d="M120.48,730.97 C121.21,730.37 123.59,728.59 124.88,727.39 C126.17,726.19 127.14,724.73 128.24,723.76 C129.35,722.79 130.65,721.43 131.52,721.57 C132.39,721.71 132.69,723.94 133.46,724.61 C134.23,725.27 134.69,725.09 136.13,725.57 C137.58,726.05 140.90,726.46 142.14,727.49 C143.38,728.52 142.84,730.32 143.57,731.76 C144.30,733.20 145.27,734.92 146.53,736.13 C147.79,737.33 150.35,738.52 151.12,739.00" fill="none" stroke="#a0e0e0" stroke-width="0.85" opacity="0.75"/>
<path d="M125.96,721.06 C126.38,721.66 127.31,723.67 128.52,724.65 C129.73,725.64 131.81,726.40 133.23,726.97 C134.64,727.54 135.91,727.19 137.00,728.06 C138.08,728.94 139.04,731.02 139.73,732.21 C140.42,733.40 140.09,734.07 141.14,735.20 C142.18,736.34 145.21,738.37 146.02,739.00" fill="none" stroke="#a0e0e0" stroke-width="0.65" opacity="0.75"/>
<path d="M214.30,654.71 C213.78,654.84 212.54,654.82 211.20,655.52 C209.87,656.23 207.86,658.10 206.27,658.94 C204.68,659.78 202.55,659.89 201.67,660.56 C200.79,661.24 201.94,662.04 200.98,662.98 C200.02,663.93 197.05,665.05 195.89,666.22 C194.73,667.39 194.83,668.59 194.02,670.01 C193.20,671.42 191.52,673.93 191.02,674.71" fill="none" stroke="#8cd4e0" stroke-width="0.91" opacity="0.75"/>
<path d="M207.46,657.98 C207.28,658.59 207.60,660.76 206.34,661.64 C205.07,662.52 201.22,662.67 199.87,663.24 C198.53,663.82 199.32,663.82 198.27,665.08 C197.23,666.33 194.88,669.33 193.59,670.78 C192.30,672.23 191.38,672.61 190.53,673.79 C189.68,674.96 188.86,676.08 188.49,677.85 C188.11,679.62 187.58,681.84 188.27,684.40 C188.96,686.96 191.95,690.68 192.61,693.19 C193.27,695.70 192.56,697.20 192.23,699.46 C191.90,701.72 190.86,704.47 190.64,706.77 C190.42,709.07 190.88,712.18 190.93,713.26" fill="none" stroke="#70b8dc" stroke-width="1.10" opacity="0.75"/>
<path d="M218.07,652.82 C217.72,653.16 217.37,654.20 216.00,654.85 C214.63,655.50 210.92,656.29 209.84,656.72 C208.76,657.15 210.63,656.92 209.54,657.43 C208.45,657.93 204.99,658.87 203.31,659.77 C201.64,660.67 200.53,661.69 199.47,662.83 C198.42,663.97 197.39,665.98 196.97,666.61" fill="none" stroke="#70b8dc" stroke-width="1.06" opacity="0.75"/>
<path d="M210.05,653.04 C209.11,653.50 206.04,654.81 204.38,655.77 C202.72,656.72 201.31,657.86 200.09,658.76 C198.87,659.67 198.10,660.60 197.06,661.21 C196.01,661.82 195.12,661.73 193.83,662.44 C192.55,663.15 190.76,664.33 189.33,665.48 C187.90,666.62 185.93,668.66 185.25,669.30" fill="none" stroke="#3f76c8" stroke-width="1.01" opacity="0.75"/>
<path d="M209.37,658.12 C208.37,658.42 204.75,659.08 203.37,659.91 C201.98,660.74 202.10,662.15 201.05,663.08 C200.01,664.02 197.75,665.11 197.09,665.52" fill="none" stroke="#62a8dc" stroke-width="1.05" opacity="0.75"/>
<path d="M205.89,660.41 C205.21,661.00 202.75,662.99 201.79,663.96 C200.83,664.94 201.20,665.33 200.15,666.28 C199.09,667.24 196.35,668.55 195.47,669.68 C194.59,670.81 195.53,671.77 194.86,673.06 C194.18,674.35 192.00,676.70 191.43,677.43" fill="none" stroke="#62a8dc" stroke-width="0.64" opacity="0.75"/>
<path d="M215.82,651.00 C215.47,651.47 214.83,652.96 213.72,653.79 C212.62,654.62 210.21,655.27 209.17,655.99 C208.13,656.71 208.45,657.30 207.48,658.10 C206.52,658.90 204.59,659.76 203.38,660.79 C202.17,661.82 200.74,663.69 200.21,664.27" fill="none" stroke="#70b8dc" stroke-width="0.69" opacity="0.75"/>
<path d="M212.57,655.96 C211.97,656.27 209.97,656.95 208.96,657.79 C207.96,658.64 207.94,660.09 206.54,661.05 C205.15,662.02 202.18,662.72 200.60,663.60 C199.01,664.49 198.21,665.18 197.05,666.37 C195.90,667.55 194.65,669.42 193.65,670.71 C192.65,672.01 191.99,672.75 191.07,674.13 C190.14,675.50 188.14,677.22 188.10,678.97 C188.06,680.71 190.19,682.38 190.81,684.58 C191.44,686.79 191.98,689.74 191.88,692.20 C191.78,694.67 190.14,697.06 190.23,699.40 C190.31,701.74 191.96,703.77 192.40,706.25 C192.84,708.73 192.78,712.94 192.86,714.28" fill="none" stroke="#70b8dc" stroke-width="0.74" opacity="0.75"/>
<path d="M218.45,653.24 C217.45,653.63 213.54,654.61 212.44,655.57 C211.34,656.53 213.03,658.19 211.86,658.99 C210.69,659.78 207.22,659.59 205.41,660.33 C203.61,661.07 202.13,662.52 201.04,663.42 C199.95,664.32 199.79,664.55 198.87,665.75 C197.94,666.94 196.16,669.30 195.50,670.60 C194.85,671.90 195.79,672.30 194.96,673.57 C194.12,674.84 190.88,676.11 190.50,678.24 C190.12,680.36 192.44,683.83 192.66,686.30 C192.88,688.77 191.96,691.93 191.82,693.05" fill="none" stroke="#70b8dc" stroke-width="0.74" opacity="0.75"/>
<path d="M209.48,651.40 C209.24,651.85 209.09,653.52 208.03,654.12 C206.96,654.72 204.07,654.31 203.09,655.01 C202.12,655.72 203.52,657.45 202.20,658.34 C200.88,659.23 196.92,659.41 195.17,660.34 C193.42,661.27 192.39,663.00 191.71,663.91 C191.04,664.82 192.30,664.85 191.12,665.82 C189.94,666.78 185.79,668.32 184.62,669.70 C183.44,671.09 184.83,672.69 184.06,674.11 C183.29,675.54 180.17,676.45 180.01,678.23 C179.86,680.02 182.92,682.50 183.13,684.84 C183.33,687.17 181.40,689.62 181.24,692.25 C181.08,694.88 181.73,698.06 182.15,700.61 C182.57,703.16 183.80,705.31 183.77,707.55 C183.75,709.79 181.65,711.96 182.01,714.05 C182.37,716.14 185.46,718.11 185.93,720.08 C186.41,722.05 185.47,723.76 184.85,725.88 C184.24,727.99 182.37,730.59 182.25,732.78 C182.13,734.97 183.84,737.96 184.15,739.00" fill="none" stroke="#8cd4e0" stroke-width="0.51" opacity="0.75"/>
<path d="M193.31,662.54 C192.62,663.08 190.46,664.64 189.16,665.80 C187.87,666.97 186.43,668.29 185.52,669.50 C184.60,670.71 184.64,671.72 183.67,673.05 C182.69,674.37 180.35,675.45 179.67,677.45 C178.99,679.46 179.60,683.80 179.58,685.07" fill="none" stroke="#4f8fd8" stroke-width="0.71" opacity="0.75"/>
<path d="M200.29,658.68 C199.50,658.85 197.39,659.08 195.54,659.71 C193.69,660.34 190.64,661.39 189.19,662.47 C187.74,663.54 187.86,664.91 186.85,666.16 C185.83,667.40 183.77,668.64 183.11,669.95 C182.45,671.25 183.49,672.53 182.91,674.00 C182.33,675.47 180.03,677.03 179.61,678.78 C179.19,680.52 180.44,682.02 180.41,684.47 C180.37,686.93 179.12,690.83 179.38,693.51 C179.65,696.19 181.76,698.53 182.02,700.56 C182.27,702.59 181.11,704.83 180.92,705.69" fill="none" stroke="#3a64b8" stroke-width="1.05" opacity="0.75"/>
<path d="M204.35,653.93 C204.07,654.28 203.77,655.31 202.62,656.00 C201.47,656.69 199.20,657.17 197.44,658.08 C195.69,659.00 193.00,660.94 192.11,661.51" fill="none" stroke="#70b8dc" stroke-width="0.71" opacity="0.75"/>
<path d="M209.01,653.85 C208.77,654.37 208.53,656.36 207.57,656.92 C206.61,657.48 204.49,656.50 203.24,657.21 C201.98,657.92 200.95,660.30 200.04,661.18 C199.14,662.06 199.09,661.82 197.79,662.48 C196.49,663.13 193.38,663.70 192.27,665.11 C191.15,666.52 192.27,669.32 191.10,670.95 C189.92,672.57 186.14,673.81 185.21,674.88 C184.28,675.95 185.68,675.47 185.53,677.36 C185.37,679.24 183.97,683.73 184.28,686.19 C184.60,688.65 187.24,689.83 187.44,692.11 C187.63,694.38 185.50,697.56 185.44,699.83 C185.38,702.10 186.70,703.49 187.07,705.73 C187.45,707.97 187.65,711.02 187.68,713.26 C187.70,715.51 187.21,716.99 187.24,719.18 C187.27,721.37 187.77,725.19 187.88,726.40" fill="none" stroke="#8cd4e0" stroke-width="0.51" opacity="0.75"/>
<path d="M189.87,665.72 C189.15,666.59 186.39,669.53 185.55,670.99 C184.72,672.45 185.65,673.37 184.87,674.47 C184.09,675.58 181.54,677.10 180.87,677.62" fill="none" stroke="#70b8dc" stroke-width="0.89" opacity="0.75"/>
<path d="M209.52,651.40 C208.92,651.74 206.94,652.72 205.93,653.44 C204.93,654.16 204.67,654.95 203.50,655.73 C202.34,656.52 200.15,657.42 198.94,658.17 C197.73,658.91 197.36,659.50 196.24,660.20 C195.13,660.90 193.62,661.55 192.26,662.36 C190.89,663.16 189.35,663.73 188.05,665.03 C186.75,666.33 185.16,668.73 184.44,670.19 C183.72,671.64 184.69,672.61 183.74,673.78 C182.79,674.95 179.05,675.19 178.72,677.20 C178.40,679.22 181.69,683.24 181.80,685.87 C181.90,688.50 179.42,690.72 179.36,692.98 C179.30,695.24 180.80,697.30 181.42,699.42 C182.05,701.54 182.82,704.65 183.10,705.70" fill="none" stroke="#4f8fd8" stroke-width="0.78" opacity="0.75"/>
<path d="M211.74,652.21 C211.38,652.67 210.50,654.36 209.60,654.95 C208.71,655.55 207.57,655.23 206.36,655.79 C205.15,656.35 203.79,657.32 202.37,658.30 C200.95,659.28 199.70,660.84 197.86,661.66 C196.02,662.49 192.41,662.99 191.32,663.26" fill="none" stroke="#62a8dc" stroke-width="0.75" opacity="0.75"/>
<path d="M201.02,660.28 C200.24,660.71 197.67,661.88 196.39,662.83 C195.11,663.77 193.85,665.41 193.34,665.93" fill="none" stroke="#8cd4e0" stroke-width="0.57" opacity="0.75"/>
<path d="M203.81,655.16 C203.15,655.50 200.74,656.36 199.86,657.22 C198.97,658.08 199.67,659.25 198.49,660.32 C197.31,661.39 194.12,662.55 192.77,663.64 C191.41,664.74 191.42,665.83 190.36,666.89 C189.30,667.95 187.29,668.85 186.42,670.00 C185.54,671.15 186.16,672.38 185.09,673.79 C184.03,675.20 180.86,677.70 180.01,678.48" fill="none" stroke="#8cd4e0" stroke-width="1.07" opacity="0.75"/>
<path d="M193.37,665.11 C192.54,665.80 189.28,667.81 188.39,669.24 C187.49,670.67 188.46,672.32 188.02,673.69 C187.58,675.05 186.19,675.38 185.74,677.43 C185.30,679.47 185.06,683.36 185.34,685.95 C185.62,688.54 187.35,690.76 187.43,692.96 C187.50,695.17 185.89,697.03 185.81,699.18 C185.73,701.33 186.81,703.59 186.94,705.86 C187.07,708.13 186.67,710.58 186.57,712.78 C186.47,714.98 186.36,718.02 186.32,719.07" fill="none" stroke="#3f76c8" stroke-width="0.74" opacity="0.75"/>
<path d="M204.88,654.23 C204.30,654.43 202.63,654.69 201.41,655.42 C200.18,656.16 198.89,657.83 197.53,658.65 C196.17,659.47 194.54,659.42 193.26,660.34 C191.98,661.26 190.95,663.33 189.84,664.16 C188.74,664.99 187.16,665.15 186.63,665.34" fill="none" stroke="#4f8fd8" stroke-width="1.02" opacity="0.75"/>
<path d="M196.53,662.67 C195.76,663.12 193.28,664.29 191.90,665.40 C190.53,666.51 189.32,667.86 188.28,669.33 C187.23,670.79 186.40,672.77 185.62,674.18 C184.85,675.59 183.82,675.80 183.64,677.78 C183.45,679.75 184.37,684.64 184.52,686.02" fill="none" stroke="#8cd4e0" stroke-width="1.04" opacity="0.75"/>
<path d="M198.85,655.37 C198.63,655.87 198.49,657.59 197.52,658.36 C196.56,659.12 194.13,659.19 193.05,659.97 C191.96,660.75 191.36,662.53 191.02,663.04" fill="none" stroke="#4f8fd8" stroke-width="0.71" opacity="0.75"/>
<path d="M196.53,659.97 C195.50,660.64 191.92,663.10 190.32,663.98 C188.72,664.86 188.25,664.16 186.94,665.26 C185.63,666.37 183.59,669.06 182.45,670.60 C181.31,672.14 180.56,673.24 180.08,674.50 C179.60,675.76 179.59,676.44 179.57,678.18 C179.55,679.92 179.94,682.44 179.98,684.95 C180.02,687.45 179.57,690.70 179.80,693.23 C180.03,695.75 181.16,697.78 181.37,700.09 C181.57,702.39 181.11,704.93 181.02,707.04 C180.92,709.15 180.59,710.68 180.81,712.77 C181.03,714.85 182.01,717.15 182.32,719.54 C182.63,721.93 182.61,725.84 182.67,727.10" fill="none" stroke="#70b8dc" stroke-width="0.54" opacity="0.75"/>
<path d="M204.70,659.73 C204.37,660.49 203.63,663.13 202.71,664.30 C201.79,665.46 200.14,665.75 199.17,666.71 C198.20,667.67 198.19,668.82 196.90,670.04 C195.61,671.27 192.32,673.39 191.40,674.05" fill="none" stroke="#a0e0e0" stroke-width="0.76" opacity="0.75"/>
<path d="M213.63,655.63 C212.59,656.12 209.10,657.56 207.38,658.54 C205.67,659.52 204.71,660.76 203.33,661.49 C201.96,662.22 200.38,662.02 199.14,662.93 C197.90,663.84 196.82,665.91 195.91,666.97 C195.00,668.04 194.66,668.09 193.70,669.30 C192.73,670.50 190.72,672.67 190.12,674.21 C189.52,675.75 190.10,676.82 190.09,678.53 C190.08,680.25 190.15,681.99 190.06,684.50 C189.96,687.01 189.61,692.07 189.52,693.58" fill="none" stroke="#70b8dc" stroke-width="0.64" opacity="0.75"/>
<path d="M194.74,649.29 C195.53,649.80 198.64,651.16 199.52,652.33 C200.40,653.50 199.47,655.13 200.01,656.31 C200.55,657.48 201.86,658.19 202.76,659.38 C203.66,660.56 204.57,662.41 205.41,663.42 C206.25,664.43 206.87,664.76 207.79,665.46 C208.71,666.17 210.41,667.29 210.93,667.66" fill="none" stroke="#3f76c8" stroke-width="0.55" opacity="0.75"/>
<path d="M201.75,656.98 C201.85,657.25 201.52,657.56 202.32,658.60 C203.13,659.65 205.89,662.46 206.60,663.23" fill="none" stroke="#3f76c8" stroke-width="0.80" opacity="0.75"/>
<path d="M198.77,655.68 C199.21,656.17 200.69,657.30 201.43,658.62 C202.18,659.93 202.84,662.45 203.23,663.56 C203.63,664.67 202.95,664.40 203.81,665.27 C204.68,666.14 207.65,668.18 208.42,668.77" fill="none" stroke="#62a8dc" stroke-width="0.94" opacity="0.75"/>
<path d="M197.99,649.78 C198.23,650.14 198.98,650.85 199.43,651.91 C199.88,652.98 200.05,654.92 200.68,656.16 C201.30,657.41 202.74,658.84 203.15,659.38" fill="none" stroke="#62a8dc" stroke-width="0.88" opacity="0.75"/>
<path d="M186.77,646.79 C187.29,647.16 188.66,648.06 189.90,649.03 C191.13,650.01 193.64,651.60 194.16,652.64 C194.68,653.69 192.46,654.12 192.99,655.29 C193.53,656.47 196.23,658.43 197.38,659.69 C198.54,660.95 199.50,662.31 199.93,662.84" fill="none" stroke="#8cd4e0" stroke-width="0.98" opacity="0.75"/>
<path d="M194.54,651.75 C194.96,652.50 196.10,654.98 197.04,656.24 C197.97,657.49 199.01,658.27 200.14,659.28 C201.27,660.29 202.94,661.05 203.82,662.30 C204.70,663.55 204.56,665.85 205.42,666.77 C206.28,667.69 208.39,667.66 208.98,667.83" fill="none" stroke="#4f8fd8" stroke-width="0.91" opacity="0.75"/>
<path d="M200.71,655.63 C200.90,656.21 201.13,658.02 201.86,659.14 C202.60,660.26 204.57,661.81 205.12,662.35" fill="none" stroke="#70b8dc" stroke-width="0.80" opacity="0.75"/>
<path d="M196.72,656.94 C196.92,657.32 197.42,658.16 197.94,659.22 C198.46,660.27 198.97,662.03 199.82,663.27 C200.68,664.51 201.73,665.95 203.09,666.66 C204.45,667.37 207.19,667.37 208.01,667.51" fill="none" stroke="#3a64b8" stroke-width="0.53" opacity="0.75"/>
<g filter="url(#sb10)" fill="#a83068" opacity="0.6">
<path d="M122,678 C126,672 133,674 135,682 C135,689 128,693 122,690Z"/>
<path d="M180,670 C184,667 190,670 190,678 C190,686 185,690 181,686 C178,681 178,674 180,670Z"/>
<path d="M147,729 C150,726 155,727 155,731 C154,735 149,735 147,732Z"/>
</g>
<g filter="url(#sb6)" fill="#b4f0e0">
<path d="M155,646 L177,646 C176,652 172,657 170,664 C168.5,672 168.5,684 170.5,693 C171.5,700 170.5,708 170.5,716 C170.5,726 171.5,733 171.5,740 L165,740 C165,730 165,720 164,712 C163,704 161.5,698 161,692 C160.5,684 160,674 159,668 C158,661 156.5,655 155,650Z"/>
<path d="M138.5,699 C141,696 145,696 146,702 C147,710 146,718 144,722 C141,722 139,716 138.5,710Z"/>
<path d="M178,650 C181,648 185,649 185,653 C184,657 181,658 179,656Z"/>
<path d="M182,659 C185,657 188,659 187,662 C185,664 183,663 182,659Z"/>
<path d="M200,706 C202,703 205,704 205,710 C205,716 203,720 201,718 C200,714 200,710 200,706Z"/>
<path d="M150,650 C152,648 155,649 155,652 C154,655 151,655 150,650Z"/>
<path d="M124,650 C126,648 129,650 128,653 C126,655 124,654 124,650Z"/>
<path d="M206,676 C208,674 211,675 211,678 C209,681 207,680 206,676Z"/>
</g>
<g fill="#c85a88" opacity="0.85">
<path d="M159,650 C161,648 164,649 165,652 C166,655 163,657 161,656 C159,655 158,653 159,650Z"/>
<path d="M167,654 C169,652 173,653 173,656 C172,659 169,660 167,658Z"/>
<path d="M162.5,659 C164,658 166,659 166,661.5 C165,663 163,663 162.5,661Z"/>
<path d="M170,647 L175,647 C175,649 173,651 171,650Z"/>
<path d="M156,646 L160,646 C160,648 158,649 156.5,648Z"/>
</g>
</g></g>
<rect x="191.80" y="733.15" width="17.2" height="1.3" fill="#000"/>
<text x="200.40" y="731.20" font-size="5.6" text-anchor="middle" textLength="16.6" lengthAdjust="spacingAndGlyphs" stroke="#111" stroke-width="0.12">50 μm</text>
<g clip-path="url(#ci_s_hi)"><g filter="url(#tblur)">
<rect x="213.0" y="645.1" width="97.0" height="95.9" fill="#eef2ee"/>
<rect x="213.0" y="645.1" width="97.0" height="95.9" filter="url(#nz12)" opacity="0.7"/>
<rect x="213.0" y="645.1" width="97.0" height="95.9" filter="url(#nz13)" opacity="0.35"/>
<rect x="213.0" y="645.1" width="97.0" height="95.9" filter="url(#nz14)" opacity="0.6"/>
</g></g>
<rect x="285.80" y="733.15" width="17.2" height="1.3" fill="#000"/>
<text x="294.40" y="731.20" font-size="5.6" text-anchor="middle" textLength="16.6" lengthAdjust="spacingAndGlyphs" stroke="#111" stroke-width="0.12">50 μm</text>
<g clip-path="url(#ci_u_lo)"><g filter="url(#tblur)">
<rect x="25.2" y="738.0" width="96.5" height="96.8" fill="#c2c6e6"/>
<rect x="25.2" y="738.0" width="96.5" height="96.8" filter="url(#nz15)" opacity="0.65"/>
<rect x="25.2" y="738.0" width="96.5" height="96.8" filter="url(#nz16)" opacity="0.55"/>
<rect x="25.2" y="738.0" width="96.5" height="96.8" filter="url(#nz17)" opacity="0.9"/>
</g></g>
<rect x="97.50" y="825.35" width="17.2" height="1.3" fill="#000"/>
<text x="106.10" y="823.40" font-size="5.6" text-anchor="middle" textLength="16.6" lengthAdjust="spacingAndGlyphs" stroke="#111" stroke-width="0.12">50 μm</text>
<g clip-path="url(#ci_m_lo)"><g filter="url(#tblur)">
<rect x="118.7" y="738.0" width="97.3" height="96.8" fill="#d08cbe"/>
<g mask="url(#mlzone)">
<rect x="118.7" y="738.0" width="97.3" height="96.8" fill="#aa90d2"/>
</g>
<rect x="118.7" y="738.0" width="97.3" height="96.8" filter="url(#nz18)" opacity="0.4"/>
<rect x="118.7" y="738.0" width="97.3" height="96.8" filter="url(#nz19)" opacity="0.75"/>
<rect x="118.7" y="738.0" width="97.3" height="96.8" filter="url(#nz20)" opacity="0.55"/>
<g filter="url(#sb6)" fill="#f4dfe9">
<path d="M186,770 C189,764 194,757 199,751 L200.5,752.5 C196,759 192,766 188,772Z"/>
<path d="M190,776 C193,771 197,765 201,760 L202,761.5 C199,766 195,772 191.5,777Z"/>
<path d="M134,765 C136,762 139,759 141,757 L142,758.5 C140,761 138,764 135.5,766.5Z"/>
</g>
</g></g>
<rect x="191.80" y="825.35" width="17.2" height="1.3" fill="#000"/>
<text x="200.40" y="823.40" font-size="5.6" text-anchor="middle" textLength="16.6" lengthAdjust="spacingAndGlyphs" stroke="#111" stroke-width="0.12">50 μm</text>
<g clip-path="url(#ci_s_lo)"><g filter="url(#tblur)">
<rect x="213.0" y="738.0" width="97.0" height="96.8" fill="#f3f1f0"/>
<rect x="213.0" y="738.0" width="97.0" height="96.8" filter="url(#nz21)" opacity="0.6"/>
<rect x="213.0" y="738.0" width="97.0" height="96.8" filter="url(#nz22)" opacity="0.6"/>
<rect x="213.0" y="738.0" width="97.0" height="96.8" filter="url(#nz23)" opacity="0.85"/>
<rect x="213.0" y="738.0" width="97.0" height="96.8" filter="url(#nz24)" opacity="0.6"/>
<rect x="213.0" y="738.0" width="97.0" height="96.8" filter="url(#nz25)" opacity="0.5"/>
</g></g>
<rect x="285.80" y="825.35" width="17.2" height="1.3" fill="#000"/>
<text x="294.40" y="823.40" font-size="5.6" text-anchor="middle" textLength="16.6" lengthAdjust="spacingAndGlyphs" stroke="#111" stroke-width="0.12">50 μm</text>
<text transform="translate(321.10 643.19) scale(0.823 1)" font-size="20.77" fill="#231815" stroke="#231815" stroke-width="0.35" stroke-linejoin="round">J</text>
<line x1="359.40" y1="652.51" x2="359.40" y2="785.60" stroke="#000" stroke-width="1.6"/>
<line x1="358.60" y1="784.80" x2="491.21" y2="784.80" stroke="#000" stroke-width="1.6"/>
<line x1="354.40" y1="784.80" x2="359.40" y2="784.80" stroke="#000" stroke-width="1.6"/>
<text x="351.10" y="788.10" font-size="9" text-anchor="end" stroke="#111" stroke-width="0.22">0</text>
<line x1="359.40" y1="784.80" x2="359.40" y2="789.80" stroke="#000" stroke-width="1.6"/>
<text x="359.40" y="801.60" font-size="9" text-anchor="middle" stroke="#111" stroke-width="0.22">0</text>
<line x1="354.40" y1="740.97" x2="359.40" y2="740.97" stroke="#000" stroke-width="1.6"/>
<text x="351.10" y="744.27" font-size="9" text-anchor="end" stroke="#111" stroke-width="0.22">100</text>
<line x1="403.07" y1="784.80" x2="403.07" y2="789.80" stroke="#000" stroke-width="1.6"/>
<text x="403.07" y="801.60" font-size="9" text-anchor="middle" stroke="#111" stroke-width="0.22">100</text>
<line x1="354.40" y1="697.14" x2="359.40" y2="697.14" stroke="#000" stroke-width="1.6"/>
<text x="351.10" y="700.44" font-size="9" text-anchor="end" stroke="#111" stroke-width="0.22">200</text>
<line x1="446.74" y1="784.80" x2="446.74" y2="789.80" stroke="#000" stroke-width="1.6"/>
<text x="446.74" y="801.60" font-size="9" text-anchor="middle" stroke="#111" stroke-width="0.22">200</text>
<line x1="354.40" y1="653.31" x2="359.40" y2="653.31" stroke="#000" stroke-width="1.6"/>
<text x="351.10" y="656.61" font-size="9" text-anchor="end" stroke="#111" stroke-width="0.22">300</text>
<line x1="490.41" y1="784.80" x2="490.41" y2="789.80" stroke="#000" stroke-width="1.6"/>
<text x="490.41" y="801.60" font-size="9" text-anchor="middle" stroke="#111" stroke-width="0.22">300</text>
<text x="424.90" y="815.50" font-size="9" text-anchor="middle" textLength="74" lengthAdjust="spacingAndGlyphs" stroke="#111" stroke-width="0.22">ULBP2 IHC score</text>
<text x="328.60" y="725.05" font-size="9" text-anchor="middle" textLength="64.2" lengthAdjust="spacingAndGlyphs" transform="rotate(-90 328.6 725.055)" stroke="#111" stroke-width="0.22">Masson score</text>
<line x1="360.00" y1="774.00" x2="463.30" y2="691.80" stroke="#c04040" stroke-width="0.7" stroke-dasharray="1.2,1.2"/>
<line x1="364.00" y1="784.50" x2="463.30" y2="713.30" stroke="#c04040" stroke-width="0.7" stroke-dasharray="1.2,1.2"/>
<line x1="360.00" y1="781.60" x2="463.30" y2="702.70" stroke="#b52a2a" stroke-width="1.2"/>
<circle cx="442.63" cy="672.01" r="1.55" fill="#1c1c96"/>
<circle cx="447.66" cy="676.71" r="1.55" fill="#1c1c96"/>
<circle cx="463.28" cy="699.88" r="1.55" fill="#1c1c96"/>
<circle cx="441.12" cy="702.90" r="1.55" fill="#1c1c96"/>
<circle cx="410.06" cy="720.36" r="1.55" fill="#1c1c96"/>
<circle cx="412.92" cy="722.04" r="1.55" fill="#1c1c96"/>
<circle cx="424.67" cy="722.38" r="1.55" fill="#1c1c96"/>
<circle cx="436.42" cy="722.54" r="1.55" fill="#1c1c96"/>
<circle cx="426.34" cy="730.77" r="1.55" fill="#1c1c96"/>
<circle cx="407.04" cy="733.45" r="1.55" fill="#1c1c96"/>
<circle cx="412.41" cy="736.48" r="1.55" fill="#1c1c96"/>
<circle cx="398.31" cy="737.48" r="1.55" fill="#1c1c96"/>
<circle cx="432.56" cy="737.82" r="1.55" fill="#1c1c96"/>
<circle cx="438.43" cy="735.97" r="1.55" fill="#1c1c96"/>
<circle cx="421.81" cy="743.36" r="1.55" fill="#1c1c96"/>
<circle cx="399.99" cy="743.86" r="1.55" fill="#1c1c96"/>
<circle cx="381.52" cy="746.38" r="1.55" fill="#1c1c96"/>
<circle cx="404.52" cy="745.88" r="1.55" fill="#1c1c96"/>
<circle cx="390.76" cy="747.22" r="1.55" fill="#1c1c96"/>
<circle cx="384.55" cy="752.26" r="1.55" fill="#1c1c96"/>
<circle cx="379.01" cy="752.59" r="1.55" fill="#1c1c96"/>
<circle cx="379.84" cy="755.28" r="1.55" fill="#1c1c96"/>
<circle cx="397.30" cy="749.74" r="1.55" fill="#1c1c96"/>
<circle cx="398.31" cy="752.59" r="1.55" fill="#1c1c96"/>
<circle cx="393.27" cy="755.28" r="1.55" fill="#1c1c96"/>
<circle cx="397.47" cy="756.79" r="1.55" fill="#1c1c96"/>
<circle cx="405.03" cy="754.44" r="1.55" fill="#1c1c96"/>
<circle cx="416.78" cy="750.58" r="1.55" fill="#1c1c96"/>
<circle cx="412.92" cy="758.47" r="1.55" fill="#1c1c96"/>
<circle cx="375.98" cy="764.34" r="1.55" fill="#1c1c96"/>
<circle cx="391.60" cy="763.67" r="1.55" fill="#1c1c96"/>
<circle cx="395.29" cy="765.18" r="1.55" fill="#1c1c96"/>
<circle cx="387.73" cy="766.86" r="1.55" fill="#1c1c96"/>
<circle cx="395.62" cy="767.03" r="1.55" fill="#1c1c96"/>
<circle cx="386.90" cy="769.04" r="1.55" fill="#1c1c96"/>
<circle cx="375.65" cy="769.04" r="1.55" fill="#1c1c96"/>
<circle cx="396.63" cy="770.39" r="1.55" fill="#1c1c96"/>
<circle cx="397.81" cy="771.06" r="1.55" fill="#1c1c96"/>
<circle cx="387.40" cy="772.40" r="1.55" fill="#1c1c96"/>
<circle cx="422.48" cy="765.18" r="1.55" fill="#1c1c96"/>
<circle cx="427.52" cy="766.19" r="1.55" fill="#1c1c96"/>
<circle cx="429.20" cy="761.49" r="1.55" fill="#1c1c96"/>
<circle cx="361.38" cy="769.88" r="1.55" fill="#1c1c96"/>
<circle cx="369.27" cy="770.39" r="1.55" fill="#1c1c96"/>
<circle cx="367.59" cy="772.06" r="1.55" fill="#1c1c96"/>
<circle cx="364.23" cy="774.41" r="1.55" fill="#1c1c96"/>
<circle cx="377.66" cy="774.08" r="1.55" fill="#1c1c96"/>
<circle cx="394.95" cy="774.41" r="1.55" fill="#1c1c96"/>
<circle cx="391.09" cy="775.42" r="1.55" fill="#1c1c96"/>
<circle cx="365.41" cy="775.76" r="1.55" fill="#1c1c96"/>
<circle cx="366.75" cy="776.09" r="1.55" fill="#1c1c96"/>
<circle cx="360.88" cy="777.44" r="1.55" fill="#1c1c96"/>
<circle cx="363.06" cy="779.12" r="1.55" fill="#1c1c96"/>
<circle cx="366.42" cy="778.78" r="1.55" fill="#1c1c96"/>
<circle cx="369.77" cy="776.60" r="1.55" fill="#1c1c96"/>
<circle cx="372.12" cy="778.78" r="1.55" fill="#1c1c96"/>
<circle cx="378.17" cy="776.93" r="1.55" fill="#1c1c96"/>
<circle cx="391.09" cy="775.76" r="1.55" fill="#1c1c96"/>
<circle cx="360.04" cy="779.95" r="1.55" fill="#1c1c96"/>
<circle cx="365.07" cy="777.44" r="1.55" fill="#1c1c96"/>
<circle cx="368.43" cy="774.08" r="1.55" fill="#1c1c96"/>
<text x="364.90" y="658.30" font-size="9" textLength="37.3" lengthAdjust="spacingAndGlyphs" stroke="#111" stroke-width="0.22">R²=0.647</text>
<text x="364.90" y="670.00" font-size="9" textLength="38.3" lengthAdjust="spacingAndGlyphs" stroke="#111" stroke-width="0.22">p&lt;0.0001</text>
<text x="364.90" y="680.80" font-size="9" textLength="20.8" lengthAdjust="spacingAndGlyphs" stroke="#111" stroke-width="0.22">n=62</text>
<line x1="538.40" y1="653.09" x2="538.40" y2="787.20" stroke="#000" stroke-width="1.6"/>
<line x1="537.60" y1="786.40" x2="672.31" y2="786.40" stroke="#000" stroke-width="1.6"/>
<line x1="533.40" y1="786.40" x2="538.40" y2="786.40" stroke="#000" stroke-width="1.6"/>
<text x="530.10" y="789.70" font-size="9" text-anchor="end" stroke="#111" stroke-width="0.22">0</text>
<line x1="538.40" y1="786.40" x2="538.40" y2="791.40" stroke="#000" stroke-width="1.6"/>
<text x="538.40" y="801.60" font-size="9" text-anchor="middle" stroke="#111" stroke-width="0.22">0</text>
<line x1="533.40" y1="742.23" x2="538.40" y2="742.23" stroke="#000" stroke-width="1.6"/>
<text x="530.10" y="745.53" font-size="9" text-anchor="end" stroke="#111" stroke-width="0.22">100</text>
<line x1="582.77" y1="786.40" x2="582.77" y2="791.40" stroke="#000" stroke-width="1.6"/>
<text x="582.77" y="801.60" font-size="9" text-anchor="middle" stroke="#111" stroke-width="0.22">100</text>
<line x1="533.40" y1="698.06" x2="538.40" y2="698.06" stroke="#000" stroke-width="1.6"/>
<text x="530.10" y="701.36" font-size="9" text-anchor="end" stroke="#111" stroke-width="0.22">200</text>
<line x1="627.14" y1="786.40" x2="627.14" y2="791.40" stroke="#000" stroke-width="1.6"/>
<text x="627.14" y="801.60" font-size="9" text-anchor="middle" stroke="#111" stroke-width="0.22">200</text>
<line x1="533.40" y1="653.89" x2="538.40" y2="653.89" stroke="#000" stroke-width="1.6"/>
<text x="530.10" y="657.19" font-size="9" text-anchor="end" stroke="#111" stroke-width="0.22">300</text>
<line x1="671.51" y1="786.40" x2="671.51" y2="791.40" stroke="#000" stroke-width="1.6"/>
<text x="671.51" y="801.60" font-size="9" text-anchor="middle" stroke="#111" stroke-width="0.22">300</text>
<text x="604.95" y="815.50" font-size="9" text-anchor="middle" textLength="74" lengthAdjust="spacingAndGlyphs" stroke="#111" stroke-width="0.22">ULBP2 IHC score</text>
<text x="508.40" y="726.14" font-size="9" text-anchor="middle" textLength="74.9" lengthAdjust="spacingAndGlyphs" transform="rotate(-90 508.4 726.145)" stroke="#111" stroke-width="0.22">Sirius Red score</text>
<line x1="540.00" y1="775.00" x2="643.00" y2="720.20" stroke="#c04040" stroke-width="0.7" stroke-dasharray="1.4,2.2"/>
<line x1="545.00" y1="782.00" x2="643.00" y2="734.00" stroke="#c04040" stroke-width="0.7" stroke-dasharray="1.4,2.2"/>
<line x1="538.90" y1="779.30" x2="643.30" y2="726.60" stroke="#b52a2a" stroke-width="1.2"/>
<circle cx="628.18" cy="699.57" r="1.55" fill="#1c1c96"/>
<circle cx="618.95" cy="716.86" r="1.55" fill="#1c1c96"/>
<circle cx="612.74" cy="723.57" r="1.55" fill="#1c1c96"/>
<circle cx="643.29" cy="727.77" r="1.55" fill="#1c1c96"/>
<circle cx="587.05" cy="736.67" r="1.55" fill="#1c1c96"/>
<circle cx="607.37" cy="736.67" r="1.55" fill="#1c1c96"/>
<circle cx="590.08" cy="744.05" r="1.55" fill="#1c1c96"/>
<circle cx="616.43" cy="740.86" r="1.55" fill="#1c1c96"/>
<circle cx="609.38" cy="745.06" r="1.55" fill="#1c1c96"/>
<circle cx="593.10" cy="748.25" r="1.55" fill="#1c1c96"/>
<circle cx="596.79" cy="747.92" r="1.55" fill="#1c1c96"/>
<circle cx="602.16" cy="748.75" r="1.55" fill="#1c1c96"/>
<circle cx="604.85" cy="749.09" r="1.55" fill="#1c1c96"/>
<circle cx="601.49" cy="752.95" r="1.55" fill="#1c1c96"/>
<circle cx="592.59" cy="753.79" r="1.55" fill="#1c1c96"/>
<circle cx="579.67" cy="751.27" r="1.55" fill="#1c1c96"/>
<circle cx="576.31" cy="753.29" r="1.55" fill="#1c1c96"/>
<circle cx="567.41" cy="751.78" r="1.55" fill="#1c1c96"/>
<circle cx="564.06" cy="755.47" r="1.55" fill="#1c1c96"/>
<circle cx="567.08" cy="755.80" r="1.55" fill="#1c1c96"/>
<circle cx="570.77" cy="757.99" r="1.55" fill="#1c1c96"/>
<circle cx="592.09" cy="757.65" r="1.55" fill="#1c1c96"/>
<circle cx="606.53" cy="760.84" r="1.55" fill="#1c1c96"/>
<circle cx="621.47" cy="757.65" r="1.55" fill="#1c1c96"/>
<circle cx="623.31" cy="761.68" r="1.55" fill="#1c1c96"/>
<circle cx="578.32" cy="761.34" r="1.55" fill="#1c1c96"/>
<circle cx="574.97" cy="763.02" r="1.55" fill="#1c1c96"/>
<circle cx="557.84" cy="765.04" r="1.55" fill="#1c1c96"/>
<circle cx="555.66" cy="767.56" r="1.55" fill="#1c1c96"/>
<circle cx="571.95" cy="766.38" r="1.55" fill="#1c1c96"/>
<circle cx="577.49" cy="766.88" r="1.55" fill="#1c1c96"/>
<circle cx="584.20" cy="765.88" r="1.55" fill="#1c1c96"/>
<circle cx="584.70" cy="767.22" r="1.55" fill="#1c1c96"/>
<circle cx="574.63" cy="767.56" r="1.55" fill="#1c1c96"/>
<circle cx="576.98" cy="768.06" r="1.55" fill="#1c1c96"/>
<circle cx="567.41" cy="770.07" r="1.55" fill="#1c1c96"/>
<circle cx="571.27" cy="771.42" r="1.55" fill="#1c1c96"/>
<circle cx="575.81" cy="771.42" r="1.55" fill="#1c1c96"/>
<circle cx="558.18" cy="771.42" r="1.55" fill="#1c1c96"/>
<circle cx="559.86" cy="773.10" r="1.55" fill="#1c1c96"/>
<circle cx="554.82" cy="769.74" r="1.55" fill="#1c1c96"/>
<circle cx="552.81" cy="771.42" r="1.55" fill="#1c1c96"/>
<circle cx="548.95" cy="770.24" r="1.55" fill="#1c1c96"/>
<circle cx="547.27" cy="772.26" r="1.55" fill="#1c1c96"/>
<circle cx="545.59" cy="773.43" r="1.55" fill="#1c1c96"/>
<circle cx="543.07" cy="774.27" r="1.55" fill="#1c1c96"/>
<circle cx="546.43" cy="774.77" r="1.55" fill="#1c1c96"/>
<circle cx="543.91" cy="776.45" r="1.55" fill="#1c1c96"/>
<circle cx="542.23" cy="777.29" r="1.55" fill="#1c1c96"/>
<circle cx="544.75" cy="776.96" r="1.55" fill="#1c1c96"/>
<circle cx="555.16" cy="774.77" r="1.55" fill="#1c1c96"/>
<circle cx="561.54" cy="778.13" r="1.55" fill="#1c1c96"/>
<circle cx="540.55" cy="780.65" r="1.55" fill="#1c1c96"/>
<circle cx="539.71" cy="782.33" r="1.55" fill="#1c1c96"/>
<circle cx="539.38" cy="781.49" r="1.55" fill="#1c1c96"/>
<circle cx="552.31" cy="772.26" r="1.55" fill="#1c1c96"/>
<circle cx="549.79" cy="771.42" r="1.55" fill="#1c1c96"/>
<text x="546.30" y="658.30" font-size="9" textLength="37.3" lengthAdjust="spacingAndGlyphs" stroke="#111" stroke-width="0.22">R²=0.663</text>
<text x="546.30" y="670.00" font-size="9" textLength="38.3" lengthAdjust="spacingAndGlyphs" stroke="#111" stroke-width="0.22">p&lt;0.0001</text>
<text x="546.30" y="680.80" font-size="9" textLength="20.8" lengthAdjust="spacingAndGlyphs" stroke="#111" stroke-width="0.22">n=62</text>
</svg>
</body></html>
